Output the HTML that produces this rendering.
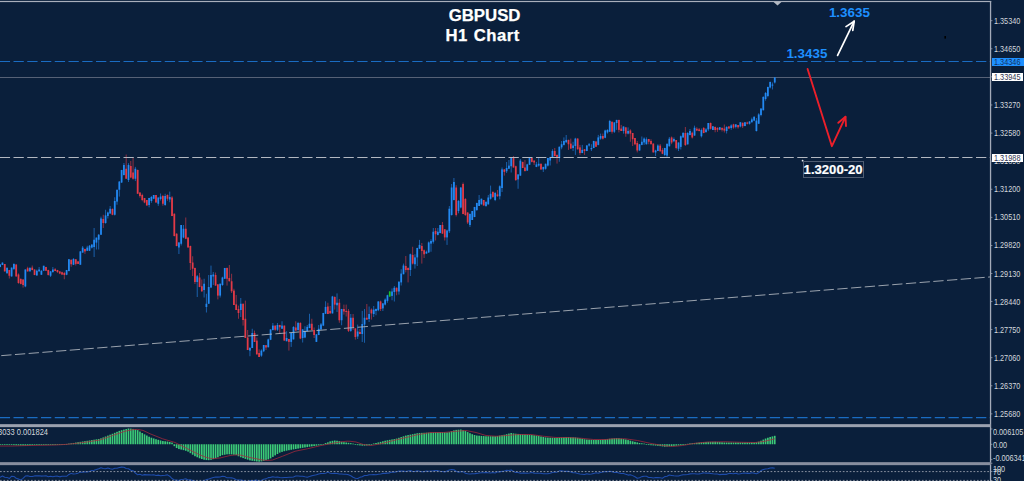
<!DOCTYPE html>
<html><head><meta charset="utf-8"><title>GBPUSD H1 Chart</title>
<style>
html,body{margin:0;padding:0;background:#0a1f3b;}
body{width:1024px;height:481px;overflow:hidden;position:relative;font-family:"Liberation Sans",sans-serif;}
svg{position:absolute;left:0;top:0;}
.ax{position:absolute;left:994.4px;font-size:8.3px;line-height:10px;height:10px;color:#d3d7dd;white-space:nowrap;transform:scaleX(0.875);transform-origin:0 50%;}
.tag{position:absolute;left:991.5px;width:31.6px;height:7.8px;white-space:nowrap;overflow:hidden;}
.tag span{position:absolute;left:2.6px;top:-1px;font-size:8.3px;line-height:10px;transform:scaleX(0.885);transform-origin:0 50%;}
.t{position:absolute;color:#fff;font-weight:bold;white-space:nowrap;}
.b{position:absolute;color:#1e90ff;font-weight:bold;font-size:13.4px;line-height:14px;white-space:nowrap;}
</style></head><body>
<svg width="1024" height="481" viewBox="0 0 1024 481">
<line x1="0" y1="61.5" x2="990.0" y2="61.5" stroke="#1a6cc2" stroke-width="1.15" stroke-dasharray="10.3 3.45" stroke-dashoffset="0.25" opacity="1.0"/>
<line x1="0" y1="417.6" x2="990.0" y2="417.6" stroke="#1a6cc2" stroke-width="1.15" stroke-dasharray="10.3 3.45" stroke-dashoffset="0.25" opacity="1.0"/>
<line x1="0" y1="77.5" x2="990.0" y2="77.5" stroke="#566176" stroke-width="1.05"/>
<line x1="-2.14" y1="261.29" x2="-2.14" y2="268.54" stroke="#e23a47" stroke-width="0.62"/>
<rect x="-3.01" y="264.20" width="1.75" height="3.61" fill="#e23a47"/>
<line x1="0.16" y1="264.09" x2="0.16" y2="267.26" stroke="#2389f2" stroke-width="0.62"/>
<rect x="-0.72" y="264.50" width="1.75" height="2.50" fill="#2389f2"/>
<line x1="2.45" y1="262.47" x2="2.45" y2="265.08" stroke="#2389f2" stroke-width="0.62"/>
<rect x="1.57" y="262.60" width="1.75" height="2.40" fill="#2389f2"/>
<line x1="4.74" y1="264.00" x2="4.74" y2="271.54" stroke="#e23a47" stroke-width="0.62"/>
<rect x="3.86" y="264.00" width="1.75" height="7.40" fill="#e23a47"/>
<line x1="7.03" y1="267.05" x2="7.03" y2="273.63" stroke="#2389f2" stroke-width="0.62"/>
<rect x="6.16" y="268.00" width="1.75" height="5.25" fill="#2389f2"/>
<line x1="9.32" y1="269.92" x2="9.32" y2="278.50" stroke="#e23a47" stroke-width="0.62"/>
<rect x="8.45" y="270.00" width="1.75" height="5.75" fill="#e23a47"/>
<line x1="11.61" y1="267.56" x2="11.61" y2="276.66" stroke="#2389f2" stroke-width="0.62"/>
<rect x="10.74" y="267.60" width="1.75" height="8.80" fill="#2389f2"/>
<line x1="13.91" y1="263.45" x2="13.91" y2="269.99" stroke="#2389f2" stroke-width="0.62"/>
<rect x="13.03" y="263.90" width="1.75" height="5.00" fill="#2389f2"/>
<line x1="16.20" y1="264.34" x2="16.20" y2="276.80" stroke="#e23a47" stroke-width="0.62"/>
<rect x="15.32" y="264.50" width="1.75" height="11.90" fill="#e23a47"/>
<line x1="18.49" y1="273.43" x2="18.49" y2="283.71" stroke="#e23a47" stroke-width="0.62"/>
<rect x="17.61" y="274.50" width="1.75" height="8.50" fill="#e23a47"/>
<line x1="20.78" y1="278.43" x2="20.78" y2="284.36" stroke="#e23a47" stroke-width="0.62"/>
<rect x="19.91" y="278.90" width="1.75" height="5.00" fill="#e23a47"/>
<line x1="23.07" y1="279.30" x2="23.07" y2="287.60" stroke="#e23a47" stroke-width="0.62"/>
<rect x="22.20" y="279.50" width="1.75" height="5.50" fill="#e23a47"/>
<line x1="25.36" y1="269.41" x2="25.36" y2="287.23" stroke="#2389f2" stroke-width="0.62"/>
<rect x="24.49" y="269.50" width="1.75" height="16.90" fill="#2389f2"/>
<line x1="27.66" y1="266.75" x2="27.66" y2="271.57" stroke="#e23a47" stroke-width="0.62"/>
<rect x="26.78" y="268.25" width="1.75" height="3.15" fill="#e23a47"/>
<line x1="29.95" y1="267.01" x2="29.95" y2="271.40" stroke="#2389f2" stroke-width="0.62"/>
<rect x="29.07" y="268.00" width="1.75" height="3.40" fill="#2389f2"/>
<line x1="32.24" y1="265.50" x2="32.24" y2="270.31" stroke="#e23a47" stroke-width="0.62"/>
<rect x="31.36" y="267.60" width="1.75" height="2.40" fill="#e23a47"/>
<line x1="34.53" y1="269.39" x2="34.53" y2="275.16" stroke="#e23a47" stroke-width="0.62"/>
<rect x="33.66" y="269.50" width="1.75" height="5.50" fill="#e23a47"/>
<line x1="36.82" y1="269.60" x2="36.82" y2="275.53" stroke="#2389f2" stroke-width="0.62"/>
<rect x="35.95" y="270.75" width="1.75" height="4.75" fill="#2389f2"/>
<line x1="39.11" y1="267.00" x2="39.11" y2="271.46" stroke="#2389f2" stroke-width="0.62"/>
<rect x="38.24" y="269.50" width="1.75" height="1.90" fill="#2389f2"/>
<line x1="41.41" y1="270.19" x2="41.41" y2="274.82" stroke="#2389f2" stroke-width="0.62"/>
<rect x="40.53" y="270.75" width="1.75" height="4.00" fill="#2389f2"/>
<line x1="43.70" y1="265.75" x2="43.70" y2="271.10" stroke="#2389f2" stroke-width="0.62"/>
<rect x="42.82" y="265.75" width="1.75" height="5.00" fill="#2389f2"/>
<line x1="45.99" y1="266.81" x2="45.99" y2="270.82" stroke="#e23a47" stroke-width="0.62"/>
<rect x="45.11" y="267.00" width="1.75" height="3.75" fill="#e23a47"/>
<line x1="48.28" y1="269.71" x2="48.28" y2="275.51" stroke="#e23a47" stroke-width="0.62"/>
<rect x="47.41" y="270.00" width="1.75" height="5.00" fill="#e23a47"/>
<line x1="50.57" y1="271.04" x2="50.57" y2="277.00" stroke="#2389f2" stroke-width="0.62"/>
<rect x="49.70" y="271.40" width="1.75" height="4.35" fill="#2389f2"/>
<line x1="52.86" y1="267.00" x2="52.86" y2="272.83" stroke="#2389f2" stroke-width="0.62"/>
<rect x="51.99" y="269.50" width="1.75" height="2.50" fill="#2389f2"/>
<line x1="55.16" y1="268.12" x2="55.16" y2="271.13" stroke="#e23a47" stroke-width="0.62"/>
<rect x="54.28" y="269.25" width="1.75" height="1.75" fill="#e23a47"/>
<line x1="57.45" y1="269.86" x2="57.45" y2="272.94" stroke="#e23a47" stroke-width="0.62"/>
<rect x="56.57" y="270.00" width="1.75" height="2.00" fill="#e23a47"/>
<line x1="59.74" y1="271.28" x2="59.74" y2="274.12" stroke="#e23a47" stroke-width="0.62"/>
<rect x="58.86" y="271.40" width="1.75" height="2.10" fill="#e23a47"/>
<line x1="62.03" y1="271.67" x2="62.03" y2="275.07" stroke="#e23a47" stroke-width="0.62"/>
<rect x="61.16" y="272.25" width="1.75" height="2.25" fill="#e23a47"/>
<line x1="64.32" y1="271.89" x2="64.32" y2="279.25" stroke="#e23a47" stroke-width="0.62"/>
<rect x="63.45" y="273.00" width="1.75" height="2.00" fill="#e23a47"/>
<line x1="66.61" y1="269.97" x2="66.61" y2="275.21" stroke="#2389f2" stroke-width="0.62"/>
<rect x="65.74" y="270.00" width="1.75" height="4.75" fill="#2389f2"/>
<line x1="68.91" y1="258.96" x2="68.91" y2="271.38" stroke="#2389f2" stroke-width="0.62"/>
<rect x="68.03" y="259.25" width="1.75" height="11.75" fill="#2389f2"/>
<line x1="71.20" y1="259.59" x2="71.20" y2="266.75" stroke="#e23a47" stroke-width="0.62"/>
<rect x="70.32" y="259.75" width="1.75" height="4.50" fill="#e23a47"/>
<line x1="73.49" y1="258.23" x2="73.49" y2="265.09" stroke="#2389f2" stroke-width="0.62"/>
<rect x="72.61" y="258.90" width="1.75" height="5.85" fill="#2389f2"/>
<line x1="75.78" y1="259.18" x2="75.78" y2="265.50" stroke="#e23a47" stroke-width="0.62"/>
<rect x="74.91" y="259.25" width="1.75" height="4.65" fill="#e23a47"/>
<line x1="78.07" y1="261.27" x2="78.07" y2="263.94" stroke="#e23a47" stroke-width="0.62"/>
<rect x="77.20" y="261.40" width="1.75" height="2.50" fill="#e23a47"/>
<line x1="80.36" y1="251.08" x2="80.36" y2="264.77" stroke="#2389f2" stroke-width="0.62"/>
<rect x="79.49" y="251.40" width="1.75" height="13.35" fill="#2389f2"/>
<line x1="82.66" y1="246.00" x2="82.66" y2="252.61" stroke="#2389f2" stroke-width="0.62"/>
<rect x="81.78" y="247.60" width="1.75" height="5.00" fill="#2389f2"/>
<line x1="84.95" y1="248.89" x2="84.95" y2="253.90" stroke="#e23a47" stroke-width="0.62"/>
<rect x="84.07" y="248.90" width="1.75" height="2.50" fill="#e23a47"/>
<line x1="87.24" y1="245.75" x2="87.24" y2="250.99" stroke="#2389f2" stroke-width="0.62"/>
<rect x="86.37" y="247.60" width="1.75" height="3.15" fill="#2389f2"/>
<line x1="89.53" y1="245.03" x2="89.53" y2="251.03" stroke="#2389f2" stroke-width="0.62"/>
<rect x="88.66" y="245.75" width="1.75" height="5.00" fill="#2389f2"/>
<line x1="91.82" y1="244.47" x2="91.82" y2="248.50" stroke="#2389f2" stroke-width="0.62"/>
<rect x="90.95" y="244.50" width="1.75" height="3.10" fill="#2389f2"/>
<line x1="94.12" y1="228.00" x2="94.12" y2="257.00" stroke="#2389f2" stroke-width="0.62"/>
<rect x="93.24" y="239.75" width="1.75" height="7.25" fill="#2389f2"/>
<line x1="96.41" y1="237.52" x2="96.41" y2="249.50" stroke="#2389f2" stroke-width="0.62"/>
<rect x="95.53" y="237.60" width="1.75" height="5.00" fill="#2389f2"/>
<line x1="98.70" y1="233.99" x2="98.70" y2="249.50" stroke="#2389f2" stroke-width="0.62"/>
<rect x="97.82" y="234.75" width="1.75" height="5.00" fill="#2389f2"/>
<line x1="100.99" y1="216.60" x2="100.99" y2="234.83" stroke="#2389f2" stroke-width="0.62"/>
<rect x="100.12" y="218.50" width="1.75" height="16.25" fill="#2389f2"/>
<line x1="103.28" y1="214.75" x2="103.28" y2="228.00" stroke="#e23a47" stroke-width="0.62"/>
<rect x="102.41" y="219.00" width="1.75" height="4.00" fill="#e23a47"/>
<line x1="105.57" y1="209.75" x2="105.57" y2="223.69" stroke="#2389f2" stroke-width="0.62"/>
<rect x="104.70" y="215.40" width="1.75" height="7.60" fill="#2389f2"/>
<line x1="107.87" y1="211.65" x2="107.87" y2="218.50" stroke="#2389f2" stroke-width="0.62"/>
<rect x="106.99" y="212.50" width="1.75" height="3.50" fill="#2389f2"/>
<line x1="110.16" y1="206.00" x2="110.16" y2="213.71" stroke="#2389f2" stroke-width="0.62"/>
<rect x="109.28" y="208.75" width="1.75" height="4.75" fill="#2389f2"/>
<line x1="112.45" y1="208.40" x2="112.45" y2="215.22" stroke="#e23a47" stroke-width="0.62"/>
<rect x="111.57" y="209.00" width="1.75" height="5.75" fill="#e23a47"/>
<line x1="114.74" y1="197.25" x2="114.74" y2="215.52" stroke="#2389f2" stroke-width="0.62"/>
<rect x="113.87" y="201.00" width="1.75" height="13.75" fill="#2389f2"/>
<line x1="117.03" y1="189.73" x2="117.03" y2="204.75" stroke="#2389f2" stroke-width="0.62"/>
<rect x="116.16" y="189.75" width="1.75" height="11.85" fill="#2389f2"/>
<line x1="119.32" y1="181.06" x2="119.32" y2="196.60" stroke="#2389f2" stroke-width="0.62"/>
<rect x="118.45" y="181.60" width="1.75" height="8.15" fill="#2389f2"/>
<line x1="121.62" y1="169.88" x2="121.62" y2="183.01" stroke="#2389f2" stroke-width="0.62"/>
<rect x="120.74" y="170.00" width="1.75" height="12.50" fill="#2389f2"/>
<line x1="123.91" y1="163.00" x2="123.91" y2="175.53" stroke="#2389f2" stroke-width="0.62"/>
<rect x="123.03" y="165.00" width="1.75" height="10.00" fill="#2389f2"/>
<line x1="126.20" y1="154.50" x2="126.20" y2="178.78" stroke="#e23a47" stroke-width="0.62"/>
<rect x="125.32" y="168.75" width="1.75" height="10.00" fill="#e23a47"/>
<line x1="128.49" y1="163.19" x2="128.49" y2="182.00" stroke="#2389f2" stroke-width="0.62"/>
<rect x="127.62" y="165.00" width="1.75" height="15.00" fill="#2389f2"/>
<line x1="130.78" y1="161.00" x2="130.78" y2="178.19" stroke="#e23a47" stroke-width="0.62"/>
<rect x="129.91" y="166.00" width="1.75" height="11.50" fill="#e23a47"/>
<line x1="133.07" y1="158.00" x2="133.07" y2="179.69" stroke="#e23a47" stroke-width="0.62"/>
<rect x="132.20" y="172.50" width="1.75" height="6.25" fill="#e23a47"/>
<line x1="135.37" y1="166.88" x2="135.37" y2="181.07" stroke="#2389f2" stroke-width="0.62"/>
<rect x="134.49" y="168.75" width="1.75" height="10.00" fill="#2389f2"/>
<line x1="137.66" y1="169.57" x2="137.66" y2="193.75" stroke="#e23a47" stroke-width="0.62"/>
<rect x="136.78" y="170.00" width="1.75" height="23.75" fill="#e23a47"/>
<line x1="139.95" y1="192.44" x2="139.95" y2="197.67" stroke="#e23a47" stroke-width="0.62"/>
<rect x="139.07" y="192.50" width="1.75" height="3.50" fill="#e23a47"/>
<line x1="142.24" y1="193.65" x2="142.24" y2="201.27" stroke="#e23a47" stroke-width="0.62"/>
<rect x="141.37" y="195.00" width="1.75" height="5.00" fill="#e23a47"/>
<line x1="144.53" y1="197.94" x2="144.53" y2="203.21" stroke="#e23a47" stroke-width="0.62"/>
<rect x="143.66" y="198.00" width="1.75" height="4.50" fill="#e23a47"/>
<line x1="146.82" y1="200.00" x2="146.82" y2="205.53" stroke="#e23a47" stroke-width="0.62"/>
<rect x="145.95" y="200.00" width="1.75" height="5.50" fill="#e23a47"/>
<line x1="149.12" y1="197.77" x2="149.12" y2="207.33" stroke="#2389f2" stroke-width="0.62"/>
<rect x="148.24" y="198.00" width="1.75" height="7.00" fill="#2389f2"/>
<line x1="151.41" y1="195.97" x2="151.41" y2="202.80" stroke="#2389f2" stroke-width="0.62"/>
<rect x="150.53" y="197.00" width="1.75" height="4.00" fill="#2389f2"/>
<line x1="153.70" y1="194.99" x2="153.70" y2="199.18" stroke="#2389f2" stroke-width="0.62"/>
<rect x="152.82" y="195.00" width="1.75" height="3.75" fill="#2389f2"/>
<line x1="155.99" y1="194.98" x2="155.99" y2="202.67" stroke="#e23a47" stroke-width="0.62"/>
<rect x="155.12" y="195.00" width="1.75" height="7.50" fill="#e23a47"/>
<line x1="158.28" y1="197.47" x2="158.28" y2="205.86" stroke="#2389f2" stroke-width="0.62"/>
<rect x="157.41" y="197.50" width="1.75" height="6.25" fill="#2389f2"/>
<line x1="160.57" y1="193.50" x2="160.57" y2="200.50" stroke="#2389f2" stroke-width="0.62"/>
<rect x="159.70" y="196.50" width="1.75" height="2.50" fill="#2389f2"/>
<line x1="162.87" y1="194.93" x2="162.87" y2="205.72" stroke="#e23a47" stroke-width="0.62"/>
<rect x="161.99" y="196.00" width="1.75" height="7.75" fill="#e23a47"/>
<line x1="165.16" y1="193.76" x2="165.16" y2="205.81" stroke="#2389f2" stroke-width="0.62"/>
<rect x="164.28" y="196.00" width="1.75" height="9.00" fill="#2389f2"/>
<line x1="167.45" y1="194.37" x2="167.45" y2="200.79" stroke="#e23a47" stroke-width="0.62"/>
<rect x="166.57" y="195.00" width="1.75" height="3.75" fill="#e23a47"/>
<line x1="169.74" y1="191.60" x2="169.74" y2="202.25" stroke="#2389f2" stroke-width="0.62"/>
<rect x="168.87" y="197.00" width="1.75" height="2.50" fill="#2389f2"/>
<line x1="172.03" y1="196.13" x2="172.03" y2="216.17" stroke="#e23a47" stroke-width="0.62"/>
<rect x="171.16" y="197.50" width="1.75" height="18.50" fill="#e23a47"/>
<line x1="174.32" y1="213.41" x2="174.32" y2="236.46" stroke="#e23a47" stroke-width="0.62"/>
<rect x="173.45" y="213.75" width="1.75" height="22.25" fill="#e23a47"/>
<line x1="176.62" y1="233.18" x2="176.62" y2="246.32" stroke="#e23a47" stroke-width="0.62"/>
<rect x="175.74" y="233.75" width="1.75" height="12.25" fill="#e23a47"/>
<line x1="178.91" y1="242.04" x2="178.91" y2="254.00" stroke="#2389f2" stroke-width="0.62"/>
<rect x="178.03" y="242.50" width="1.75" height="5.00" fill="#2389f2"/>
<line x1="181.20" y1="224.99" x2="181.20" y2="245.50" stroke="#2389f2" stroke-width="0.62"/>
<rect x="180.32" y="225.00" width="1.75" height="18.75" fill="#2389f2"/>
<line x1="183.49" y1="225.00" x2="183.49" y2="238.20" stroke="#2389f2" stroke-width="0.62"/>
<rect x="182.62" y="228.75" width="1.75" height="8.75" fill="#2389f2"/>
<line x1="185.78" y1="217.50" x2="185.78" y2="239.15" stroke="#e23a47" stroke-width="0.62"/>
<rect x="184.91" y="228.75" width="1.75" height="10.00" fill="#e23a47"/>
<line x1="188.07" y1="237.38" x2="188.07" y2="247.52" stroke="#e23a47" stroke-width="0.62"/>
<rect x="187.20" y="237.50" width="1.75" height="10.00" fill="#e23a47"/>
<line x1="190.37" y1="245.65" x2="190.37" y2="270.00" stroke="#e23a47" stroke-width="0.62"/>
<rect x="189.49" y="246.00" width="1.75" height="17.00" fill="#e23a47"/>
<line x1="192.66" y1="256.25" x2="192.66" y2="276.00" stroke="#e23a47" stroke-width="0.62"/>
<rect x="191.78" y="262.50" width="1.75" height="6.25" fill="#e23a47"/>
<line x1="194.95" y1="267.59" x2="194.95" y2="284.00" stroke="#e23a47" stroke-width="0.62"/>
<rect x="194.07" y="268.00" width="1.75" height="14.00" fill="#e23a47"/>
<line x1="197.24" y1="275.00" x2="197.24" y2="297.00" stroke="#2389f2" stroke-width="0.62"/>
<rect x="196.37" y="276.25" width="1.75" height="5.75" fill="#2389f2"/>
<line x1="199.53" y1="273.00" x2="199.53" y2="287.21" stroke="#e23a47" stroke-width="0.62"/>
<rect x="198.66" y="277.50" width="1.75" height="9.50" fill="#e23a47"/>
<line x1="201.82" y1="279.50" x2="201.82" y2="292.00" stroke="#e23a47" stroke-width="0.62"/>
<rect x="200.95" y="286.25" width="1.75" height="5.00" fill="#e23a47"/>
<line x1="204.12" y1="278.75" x2="204.12" y2="297.50" stroke="#2389f2" stroke-width="0.62"/>
<rect x="203.24" y="283.75" width="1.75" height="6.25" fill="#2389f2"/>
<line x1="206.41" y1="293.75" x2="206.41" y2="312.50" stroke="#2389f2" stroke-width="0.62"/>
<rect x="205.53" y="303.75" width="1.75" height="3.25" fill="#2389f2"/>
<line x1="208.70" y1="275.00" x2="208.70" y2="303.75" stroke="#2389f2" stroke-width="0.62"/>
<rect x="207.83" y="287.00" width="1.75" height="16.75" fill="#2389f2"/>
<line x1="210.99" y1="265.60" x2="210.99" y2="288.14" stroke="#2389f2" stroke-width="0.62"/>
<rect x="210.12" y="275.00" width="1.75" height="12.50" fill="#2389f2"/>
<line x1="213.28" y1="272.00" x2="213.28" y2="285.00" stroke="#2389f2" stroke-width="0.62"/>
<rect x="212.41" y="274.50" width="1.75" height="2.00" fill="#2389f2"/>
<line x1="215.58" y1="272.50" x2="215.58" y2="285.60" stroke="#e23a47" stroke-width="0.62"/>
<rect x="214.70" y="275.00" width="1.75" height="10.60" fill="#e23a47"/>
<line x1="217.87" y1="284.05" x2="217.87" y2="299.40" stroke="#e23a47" stroke-width="0.62"/>
<rect x="216.99" y="284.40" width="1.75" height="11.20" fill="#e23a47"/>
<line x1="220.16" y1="283.58" x2="220.16" y2="297.50" stroke="#2389f2" stroke-width="0.62"/>
<rect x="219.28" y="283.75" width="1.75" height="11.85" fill="#2389f2"/>
<line x1="222.45" y1="276.73" x2="222.45" y2="285.84" stroke="#2389f2" stroke-width="0.62"/>
<rect x="221.58" y="277.50" width="1.75" height="7.50" fill="#2389f2"/>
<line x1="224.74" y1="267.90" x2="224.74" y2="278.93" stroke="#2389f2" stroke-width="0.62"/>
<rect x="223.87" y="268.00" width="1.75" height="10.75" fill="#2389f2"/>
<line x1="227.03" y1="267.54" x2="227.03" y2="285.60" stroke="#e23a47" stroke-width="0.62"/>
<rect x="226.16" y="268.00" width="1.75" height="10.75" fill="#e23a47"/>
<line x1="229.33" y1="265.00" x2="229.33" y2="281.43" stroke="#e23a47" stroke-width="0.62"/>
<rect x="228.45" y="278.00" width="1.75" height="3.25" fill="#e23a47"/>
<line x1="231.62" y1="273.75" x2="231.62" y2="293.00" stroke="#e23a47" stroke-width="0.62"/>
<rect x="230.74" y="281.25" width="1.75" height="10.00" fill="#e23a47"/>
<line x1="233.91" y1="288.75" x2="233.91" y2="305.03" stroke="#e23a47" stroke-width="0.62"/>
<rect x="233.03" y="290.60" width="1.75" height="14.40" fill="#e23a47"/>
<line x1="236.20" y1="295.00" x2="236.20" y2="310.01" stroke="#e23a47" stroke-width="0.62"/>
<rect x="235.33" y="304.40" width="1.75" height="5.60" fill="#e23a47"/>
<line x1="238.49" y1="305.60" x2="238.49" y2="318.75" stroke="#e23a47" stroke-width="0.62"/>
<rect x="237.62" y="309.00" width="1.75" height="4.00" fill="#e23a47"/>
<line x1="240.78" y1="298.00" x2="240.78" y2="317.00" stroke="#2389f2" stroke-width="0.62"/>
<rect x="239.91" y="303.75" width="1.75" height="6.25" fill="#2389f2"/>
<line x1="243.08" y1="303.62" x2="243.08" y2="325.60" stroke="#e23a47" stroke-width="0.62"/>
<rect x="242.20" y="303.75" width="1.75" height="16.25" fill="#e23a47"/>
<line x1="245.37" y1="300.60" x2="245.37" y2="338.02" stroke="#e23a47" stroke-width="0.62"/>
<rect x="244.49" y="318.75" width="1.75" height="19.25" fill="#e23a47"/>
<line x1="247.66" y1="330.00" x2="247.66" y2="350.09" stroke="#e23a47" stroke-width="0.62"/>
<rect x="246.78" y="337.50" width="1.75" height="12.50" fill="#e23a47"/>
<line x1="249.95" y1="347.00" x2="249.95" y2="356.25" stroke="#2389f2" stroke-width="0.62"/>
<rect x="249.08" y="348.00" width="1.75" height="2.60" fill="#2389f2"/>
<line x1="252.24" y1="328.75" x2="252.24" y2="348.08" stroke="#2389f2" stroke-width="0.62"/>
<rect x="251.37" y="333.00" width="1.75" height="15.00" fill="#2389f2"/>
<line x1="254.53" y1="330.60" x2="254.53" y2="342.00" stroke="#e23a47" stroke-width="0.62"/>
<rect x="253.66" y="333.00" width="1.75" height="9.00" fill="#e23a47"/>
<line x1="256.83" y1="337.50" x2="256.83" y2="354.51" stroke="#e23a47" stroke-width="0.62"/>
<rect x="255.95" y="340.60" width="1.75" height="13.80" fill="#e23a47"/>
<line x1="259.12" y1="349.40" x2="259.12" y2="357.04" stroke="#e23a47" stroke-width="0.62"/>
<rect x="258.24" y="353.00" width="1.75" height="4.00" fill="#e23a47"/>
<line x1="261.41" y1="349.40" x2="261.41" y2="356.79" stroke="#2389f2" stroke-width="0.62"/>
<rect x="260.53" y="350.60" width="1.75" height="5.00" fill="#2389f2"/>
<line x1="263.70" y1="344.95" x2="263.70" y2="352.15" stroke="#2389f2" stroke-width="0.62"/>
<rect x="262.83" y="345.00" width="1.75" height="6.25" fill="#2389f2"/>
<line x1="265.99" y1="344.97" x2="265.99" y2="350.00" stroke="#e23a47" stroke-width="0.62"/>
<rect x="265.12" y="345.25" width="1.75" height="2.25" fill="#e23a47"/>
<line x1="268.28" y1="338.62" x2="268.28" y2="347.44" stroke="#2389f2" stroke-width="0.62"/>
<rect x="267.41" y="339.40" width="1.75" height="7.85" fill="#2389f2"/>
<line x1="270.58" y1="329.40" x2="270.58" y2="340.11" stroke="#2389f2" stroke-width="0.62"/>
<rect x="269.70" y="329.40" width="1.75" height="10.35" fill="#2389f2"/>
<line x1="272.87" y1="323.00" x2="272.87" y2="330.47" stroke="#2389f2" stroke-width="0.62"/>
<rect x="271.99" y="325.60" width="1.75" height="4.40" fill="#2389f2"/>
<line x1="275.16" y1="325.51" x2="275.16" y2="330.81" stroke="#e23a47" stroke-width="0.62"/>
<rect x="274.28" y="325.60" width="1.75" height="4.15" fill="#e23a47"/>
<line x1="277.45" y1="323.00" x2="277.45" y2="330.94" stroke="#2389f2" stroke-width="0.62"/>
<rect x="276.58" y="325.00" width="1.75" height="4.75" fill="#2389f2"/>
<line x1="279.74" y1="324.76" x2="279.74" y2="333.75" stroke="#e23a47" stroke-width="0.62"/>
<rect x="278.87" y="325.00" width="1.75" height="2.25" fill="#e23a47"/>
<line x1="282.03" y1="321.25" x2="282.03" y2="328.79" stroke="#2389f2" stroke-width="0.62"/>
<rect x="281.16" y="325.60" width="1.75" height="3.15" fill="#2389f2"/>
<line x1="284.33" y1="325.60" x2="284.33" y2="340.63" stroke="#e23a47" stroke-width="0.62"/>
<rect x="283.45" y="325.60" width="1.75" height="15.00" fill="#e23a47"/>
<line x1="286.62" y1="331.25" x2="286.62" y2="341.26" stroke="#2389f2" stroke-width="0.62"/>
<rect x="285.74" y="338.00" width="1.75" height="3.25" fill="#2389f2"/>
<line x1="288.91" y1="338.85" x2="288.91" y2="350.60" stroke="#e23a47" stroke-width="0.62"/>
<rect x="288.03" y="339.00" width="1.75" height="2.90" fill="#e23a47"/>
<line x1="291.20" y1="332.88" x2="291.20" y2="346.90" stroke="#2389f2" stroke-width="0.62"/>
<rect x="290.33" y="333.00" width="1.75" height="8.90" fill="#2389f2"/>
<line x1="293.49" y1="326.25" x2="293.49" y2="339.45" stroke="#2389f2" stroke-width="0.62"/>
<rect x="292.62" y="326.90" width="1.75" height="12.50" fill="#2389f2"/>
<line x1="295.78" y1="321.25" x2="295.78" y2="330.60" stroke="#e23a47" stroke-width="0.62"/>
<rect x="294.91" y="327.50" width="1.75" height="3.10" fill="#e23a47"/>
<line x1="298.08" y1="321.90" x2="298.08" y2="330.79" stroke="#2389f2" stroke-width="0.62"/>
<rect x="297.20" y="323.00" width="1.75" height="7.00" fill="#2389f2"/>
<line x1="300.37" y1="322.25" x2="300.37" y2="339.15" stroke="#e23a47" stroke-width="0.62"/>
<rect x="299.49" y="323.00" width="1.75" height="15.50" fill="#e23a47"/>
<line x1="302.66" y1="329.21" x2="302.66" y2="342.50" stroke="#2389f2" stroke-width="0.62"/>
<rect x="301.78" y="329.40" width="1.75" height="8.60" fill="#2389f2"/>
<line x1="304.95" y1="326.25" x2="304.95" y2="338.21" stroke="#2389f2" stroke-width="0.62"/>
<rect x="304.08" y="331.25" width="1.75" height="6.25" fill="#2389f2"/>
<line x1="307.24" y1="325.00" x2="307.24" y2="331.26" stroke="#2389f2" stroke-width="0.62"/>
<rect x="306.37" y="326.90" width="1.75" height="4.35" fill="#2389f2"/>
<line x1="309.53" y1="313.75" x2="309.53" y2="328.19" stroke="#2389f2" stroke-width="0.62"/>
<rect x="308.66" y="323.75" width="1.75" height="4.25" fill="#2389f2"/>
<line x1="311.83" y1="318.75" x2="311.83" y2="330.08" stroke="#e23a47" stroke-width="0.62"/>
<rect x="310.95" y="323.75" width="1.75" height="6.25" fill="#e23a47"/>
<line x1="314.12" y1="327.50" x2="314.12" y2="338.00" stroke="#e23a47" stroke-width="0.62"/>
<rect x="313.24" y="330.00" width="1.75" height="5.00" fill="#e23a47"/>
<line x1="316.41" y1="334.00" x2="316.41" y2="341.96" stroke="#2389f2" stroke-width="0.62"/>
<rect x="315.53" y="334.40" width="1.75" height="7.50" fill="#2389f2"/>
<line x1="318.70" y1="325.00" x2="318.70" y2="335.16" stroke="#2389f2" stroke-width="0.62"/>
<rect x="317.83" y="328.75" width="1.75" height="6.25" fill="#2389f2"/>
<line x1="320.99" y1="323.00" x2="320.99" y2="330.19" stroke="#2389f2" stroke-width="0.62"/>
<rect x="320.12" y="324.40" width="1.75" height="5.00" fill="#2389f2"/>
<line x1="323.29" y1="312.84" x2="323.29" y2="326.09" stroke="#2389f2" stroke-width="0.62"/>
<rect x="322.41" y="313.00" width="1.75" height="12.60" fill="#2389f2"/>
<line x1="325.58" y1="301.25" x2="325.58" y2="313.84" stroke="#2389f2" stroke-width="0.62"/>
<rect x="324.70" y="306.90" width="1.75" height="6.85" fill="#2389f2"/>
<line x1="327.87" y1="302.75" x2="327.87" y2="314.12" stroke="#e23a47" stroke-width="0.62"/>
<rect x="326.99" y="306.50" width="1.75" height="7.50" fill="#e23a47"/>
<line x1="330.16" y1="306.00" x2="330.16" y2="313.53" stroke="#e23a47" stroke-width="0.62"/>
<rect x="329.29" y="310.90" width="1.75" height="2.50" fill="#e23a47"/>
<line x1="332.45" y1="295.84" x2="332.45" y2="313.45" stroke="#2389f2" stroke-width="0.62"/>
<rect x="331.58" y="296.50" width="1.75" height="16.90" fill="#2389f2"/>
<line x1="334.74" y1="296.34" x2="334.74" y2="309.60" stroke="#e23a47" stroke-width="0.62"/>
<rect x="333.87" y="297.00" width="1.75" height="7.60" fill="#e23a47"/>
<line x1="337.04" y1="293.40" x2="337.04" y2="312.00" stroke="#2389f2" stroke-width="0.62"/>
<rect x="336.16" y="302.75" width="1.75" height="2.50" fill="#2389f2"/>
<line x1="339.33" y1="299.00" x2="339.33" y2="322.75" stroke="#e23a47" stroke-width="0.62"/>
<rect x="338.45" y="302.75" width="1.75" height="17.50" fill="#e23a47"/>
<line x1="341.62" y1="308.85" x2="341.62" y2="325.25" stroke="#2389f2" stroke-width="0.62"/>
<rect x="340.74" y="309.00" width="1.75" height="11.25" fill="#2389f2"/>
<line x1="343.91" y1="304.60" x2="343.91" y2="314.60" stroke="#e23a47" stroke-width="0.62"/>
<rect x="343.04" y="309.00" width="1.75" height="2.50" fill="#e23a47"/>
<line x1="346.20" y1="304.60" x2="346.20" y2="316.50" stroke="#e23a47" stroke-width="0.62"/>
<rect x="345.33" y="310.90" width="1.75" height="1.10" fill="#e23a47"/>
<line x1="348.49" y1="309.00" x2="348.49" y2="331.99" stroke="#e23a47" stroke-width="0.62"/>
<rect x="347.62" y="310.90" width="1.75" height="20.00" fill="#e23a47"/>
<line x1="350.79" y1="314.00" x2="350.79" y2="331.83" stroke="#2389f2" stroke-width="0.62"/>
<rect x="349.91" y="317.75" width="1.75" height="13.15" fill="#2389f2"/>
<line x1="353.08" y1="314.00" x2="353.08" y2="330.00" stroke="#e23a47" stroke-width="0.62"/>
<rect x="352.20" y="317.75" width="1.75" height="9.25" fill="#e23a47"/>
<line x1="355.37" y1="328.39" x2="355.37" y2="339.60" stroke="#e23a47" stroke-width="0.62"/>
<rect x="354.49" y="328.40" width="1.75" height="8.60" fill="#e23a47"/>
<line x1="357.66" y1="324.60" x2="357.66" y2="339.00" stroke="#2389f2" stroke-width="0.62"/>
<rect x="356.79" y="331.50" width="1.75" height="5.00" fill="#2389f2"/>
<line x1="359.95" y1="329.00" x2="359.95" y2="334.20" stroke="#e23a47" stroke-width="0.62"/>
<rect x="359.08" y="332.00" width="1.75" height="2.00" fill="#e23a47"/>
<line x1="362.24" y1="310.90" x2="362.24" y2="342.00" stroke="#2389f2" stroke-width="0.62"/>
<rect x="361.37" y="324.00" width="1.75" height="10.00" fill="#2389f2"/>
<line x1="364.54" y1="309.00" x2="364.54" y2="342.75" stroke="#2389f2" stroke-width="0.62"/>
<rect x="363.66" y="317.75" width="1.75" height="6.85" fill="#2389f2"/>
<line x1="366.83" y1="304.00" x2="366.83" y2="319.72" stroke="#e23a47" stroke-width="0.62"/>
<rect x="365.95" y="317.75" width="1.75" height="1.85" fill="#e23a47"/>
<line x1="369.12" y1="306.50" x2="369.12" y2="322.00" stroke="#2389f2" stroke-width="0.62"/>
<rect x="368.24" y="314.00" width="1.75" height="5.00" fill="#2389f2"/>
<line x1="371.41" y1="308.43" x2="371.41" y2="319.60" stroke="#e23a47" stroke-width="0.62"/>
<rect x="370.54" y="309.60" width="1.75" height="3.80" fill="#e23a47"/>
<line x1="373.70" y1="306.00" x2="373.70" y2="317.00" stroke="#2389f2" stroke-width="0.62"/>
<rect x="372.83" y="309.60" width="1.75" height="4.40" fill="#2389f2"/>
<line x1="375.99" y1="308.50" x2="375.99" y2="315.25" stroke="#2389f2" stroke-width="0.62"/>
<rect x="375.12" y="309.00" width="1.75" height="2.00" fill="#2389f2"/>
<line x1="378.29" y1="301.04" x2="378.29" y2="311.20" stroke="#2389f2" stroke-width="0.62"/>
<rect x="377.41" y="301.50" width="1.75" height="8.75" fill="#2389f2"/>
<line x1="380.58" y1="300.62" x2="380.58" y2="311.00" stroke="#e23a47" stroke-width="0.62"/>
<rect x="379.70" y="301.50" width="1.75" height="7.50" fill="#e23a47"/>
<line x1="382.87" y1="303.09" x2="382.87" y2="311.00" stroke="#2389f2" stroke-width="0.62"/>
<rect x="381.99" y="303.40" width="1.75" height="5.00" fill="#2389f2"/>
<line x1="385.16" y1="298.40" x2="385.16" y2="305.44" stroke="#2389f2" stroke-width="0.62"/>
<rect x="384.29" y="299.60" width="1.75" height="5.00" fill="#2389f2"/>
<line x1="387.45" y1="294.68" x2="387.45" y2="302.75" stroke="#2389f2" stroke-width="0.62"/>
<rect x="386.58" y="295.25" width="1.75" height="5.65" fill="#2389f2"/>
<line x1="389.74" y1="291.00" x2="389.74" y2="297.00" stroke="#18c428" stroke-width="0.62"/>
<rect x="388.87" y="291.50" width="1.75" height="5.00" fill="#18c428"/>
<line x1="392.04" y1="288.40" x2="392.04" y2="300.25" stroke="#2389f2" stroke-width="0.62"/>
<rect x="391.16" y="291.50" width="1.75" height="4.40" fill="#2389f2"/>
<line x1="394.33" y1="286.00" x2="394.33" y2="301.50" stroke="#2389f2" stroke-width="0.62"/>
<rect x="393.45" y="287.75" width="1.75" height="4.25" fill="#2389f2"/>
<line x1="396.62" y1="287.43" x2="396.62" y2="295.25" stroke="#e23a47" stroke-width="0.62"/>
<rect x="395.74" y="287.75" width="1.75" height="3.75" fill="#e23a47"/>
<line x1="398.91" y1="281.28" x2="398.91" y2="294.60" stroke="#2389f2" stroke-width="0.62"/>
<rect x="398.04" y="281.75" width="1.75" height="9.75" fill="#2389f2"/>
<line x1="401.20" y1="269.25" x2="401.20" y2="285.50" stroke="#2389f2" stroke-width="0.62"/>
<rect x="400.33" y="273.60" width="1.75" height="8.80" fill="#2389f2"/>
<line x1="403.49" y1="263.60" x2="403.49" y2="274.28" stroke="#2389f2" stroke-width="0.62"/>
<rect x="402.62" y="265.50" width="1.75" height="8.75" fill="#2389f2"/>
<line x1="405.79" y1="256.00" x2="405.79" y2="272.40" stroke="#e23a47" stroke-width="0.62"/>
<rect x="404.91" y="266.00" width="1.75" height="4.00" fill="#e23a47"/>
<line x1="408.08" y1="267.35" x2="408.08" y2="282.40" stroke="#e23a47" stroke-width="0.62"/>
<rect x="407.20" y="268.00" width="1.75" height="2.00" fill="#e23a47"/>
<line x1="410.37" y1="253.60" x2="410.37" y2="276.00" stroke="#2389f2" stroke-width="0.62"/>
<rect x="409.49" y="254.25" width="1.75" height="15.75" fill="#2389f2"/>
<line x1="412.66" y1="246.75" x2="412.66" y2="264.50" stroke="#e23a47" stroke-width="0.62"/>
<rect x="411.79" y="254.90" width="1.75" height="8.70" fill="#e23a47"/>
<line x1="414.95" y1="254.25" x2="414.95" y2="268.60" stroke="#2389f2" stroke-width="0.62"/>
<rect x="414.08" y="257.40" width="1.75" height="6.85" fill="#2389f2"/>
<line x1="417.24" y1="247.71" x2="417.24" y2="266.00" stroke="#2389f2" stroke-width="0.62"/>
<rect x="416.37" y="248.00" width="1.75" height="9.40" fill="#2389f2"/>
<line x1="419.54" y1="239.90" x2="419.54" y2="249.11" stroke="#2389f2" stroke-width="0.62"/>
<rect x="418.66" y="244.90" width="1.75" height="3.70" fill="#2389f2"/>
<line x1="421.83" y1="243.00" x2="421.83" y2="263.60" stroke="#e23a47" stroke-width="0.62"/>
<rect x="420.95" y="246.00" width="1.75" height="5.00" fill="#e23a47"/>
<line x1="424.12" y1="249.49" x2="424.12" y2="258.00" stroke="#e23a47" stroke-width="0.62"/>
<rect x="423.24" y="250.25" width="1.75" height="4.00" fill="#e23a47"/>
<line x1="426.41" y1="250.57" x2="426.41" y2="253.61" stroke="#2389f2" stroke-width="0.62"/>
<rect x="425.54" y="251.75" width="1.75" height="1.85" fill="#2389f2"/>
<line x1="428.70" y1="241.49" x2="428.70" y2="253.01" stroke="#2389f2" stroke-width="0.62"/>
<rect x="427.83" y="242.40" width="1.75" height="10.00" fill="#2389f2"/>
<line x1="431.00" y1="239.25" x2="431.00" y2="251.75" stroke="#2389f2" stroke-width="0.62"/>
<rect x="430.12" y="241.00" width="1.75" height="2.60" fill="#2389f2"/>
<line x1="433.29" y1="228.00" x2="433.29" y2="243.60" stroke="#2389f2" stroke-width="0.62"/>
<rect x="432.41" y="231.75" width="1.75" height="10.00" fill="#2389f2"/>
<line x1="435.58" y1="228.00" x2="435.58" y2="240.50" stroke="#e23a47" stroke-width="0.62"/>
<rect x="434.70" y="231.00" width="1.75" height="3.25" fill="#e23a47"/>
<line x1="437.87" y1="228.00" x2="437.87" y2="235.40" stroke="#2389f2" stroke-width="0.62"/>
<rect x="437.00" y="231.75" width="1.75" height="3.15" fill="#2389f2"/>
<line x1="440.16" y1="224.99" x2="440.16" y2="233.37" stroke="#2389f2" stroke-width="0.62"/>
<rect x="439.29" y="225.00" width="1.75" height="8.00" fill="#2389f2"/>
<line x1="442.45" y1="222.00" x2="442.45" y2="233.89" stroke="#e23a47" stroke-width="0.62"/>
<rect x="441.58" y="225.00" width="1.75" height="8.60" fill="#e23a47"/>
<line x1="444.75" y1="229.18" x2="444.75" y2="240.50" stroke="#e23a47" stroke-width="0.62"/>
<rect x="443.87" y="229.25" width="1.75" height="8.15" fill="#e23a47"/>
<line x1="447.04" y1="229.62" x2="447.04" y2="244.90" stroke="#2389f2" stroke-width="0.62"/>
<rect x="446.16" y="230.50" width="1.75" height="6.90" fill="#2389f2"/>
<line x1="449.33" y1="206.00" x2="449.33" y2="233.00" stroke="#2389f2" stroke-width="0.62"/>
<rect x="448.45" y="208.75" width="1.75" height="22.50" fill="#2389f2"/>
<line x1="451.62" y1="184.00" x2="451.62" y2="215.59" stroke="#2389f2" stroke-width="0.62"/>
<rect x="450.75" y="187.50" width="1.75" height="27.50" fill="#2389f2"/>
<line x1="453.91" y1="178.00" x2="453.91" y2="200.41" stroke="#2389f2" stroke-width="0.62"/>
<rect x="453.04" y="182.00" width="1.75" height="18.00" fill="#2389f2"/>
<line x1="456.20" y1="185.17" x2="456.20" y2="216.50" stroke="#e23a47" stroke-width="0.62"/>
<rect x="455.33" y="187.50" width="1.75" height="27.50" fill="#e23a47"/>
<line x1="458.50" y1="200.12" x2="458.50" y2="213.31" stroke="#2389f2" stroke-width="0.62"/>
<rect x="457.62" y="201.00" width="1.75" height="10.00" fill="#2389f2"/>
<line x1="460.79" y1="187.17" x2="460.79" y2="208.39" stroke="#2389f2" stroke-width="0.62"/>
<rect x="459.91" y="187.50" width="1.75" height="20.00" fill="#2389f2"/>
<line x1="463.08" y1="182.50" x2="463.08" y2="214.23" stroke="#e23a47" stroke-width="0.62"/>
<rect x="462.20" y="184.00" width="1.75" height="30.00" fill="#e23a47"/>
<line x1="465.37" y1="198.07" x2="465.37" y2="215.87" stroke="#e23a47" stroke-width="0.62"/>
<rect x="464.50" y="199.00" width="1.75" height="16.00" fill="#e23a47"/>
<line x1="467.66" y1="212.25" x2="467.66" y2="224.00" stroke="#e23a47" stroke-width="0.62"/>
<rect x="466.79" y="212.50" width="1.75" height="10.00" fill="#e23a47"/>
<line x1="469.95" y1="213.33" x2="469.95" y2="227.00" stroke="#2389f2" stroke-width="0.62"/>
<rect x="469.08" y="214.00" width="1.75" height="11.00" fill="#2389f2"/>
<line x1="472.25" y1="210.99" x2="472.25" y2="220.02" stroke="#2389f2" stroke-width="0.62"/>
<rect x="471.37" y="211.00" width="1.75" height="9.00" fill="#2389f2"/>
<line x1="474.54" y1="206.84" x2="474.54" y2="217.18" stroke="#2389f2" stroke-width="0.62"/>
<rect x="473.66" y="207.00" width="1.75" height="10.00" fill="#2389f2"/>
<line x1="476.83" y1="202.64" x2="476.83" y2="210.98" stroke="#2389f2" stroke-width="0.62"/>
<rect x="475.95" y="203.00" width="1.75" height="7.00" fill="#2389f2"/>
<line x1="479.12" y1="195.00" x2="479.12" y2="206.03" stroke="#2389f2" stroke-width="0.62"/>
<rect x="478.25" y="200.00" width="1.75" height="6.00" fill="#2389f2"/>
<line x1="481.41" y1="198.59" x2="481.41" y2="204.41" stroke="#2389f2" stroke-width="0.62"/>
<rect x="480.54" y="198.75" width="1.75" height="5.65" fill="#2389f2"/>
<line x1="483.70" y1="200.00" x2="483.70" y2="205.64" stroke="#e23a47" stroke-width="0.62"/>
<rect x="482.83" y="200.00" width="1.75" height="5.50" fill="#e23a47"/>
<line x1="486.00" y1="201.10" x2="486.00" y2="206.83" stroke="#2389f2" stroke-width="0.62"/>
<rect x="485.12" y="202.00" width="1.75" height="4.00" fill="#2389f2"/>
<line x1="488.29" y1="195.00" x2="488.29" y2="204.44" stroke="#2389f2" stroke-width="0.62"/>
<rect x="487.41" y="197.50" width="1.75" height="6.90" fill="#2389f2"/>
<line x1="490.58" y1="185.60" x2="490.58" y2="199.62" stroke="#2389f2" stroke-width="0.62"/>
<rect x="489.70" y="193.75" width="1.75" height="5.00" fill="#2389f2"/>
<line x1="492.87" y1="191.44" x2="492.87" y2="197.88" stroke="#e23a47" stroke-width="0.62"/>
<rect x="492.00" y="191.90" width="1.75" height="5.00" fill="#e23a47"/>
<line x1="495.16" y1="191.90" x2="495.16" y2="201.17" stroke="#2389f2" stroke-width="0.62"/>
<rect x="494.29" y="193.00" width="1.75" height="7.00" fill="#2389f2"/>
<line x1="497.45" y1="190.00" x2="497.45" y2="196.73" stroke="#e23a47" stroke-width="0.62"/>
<rect x="496.58" y="194.40" width="1.75" height="1.85" fill="#e23a47"/>
<line x1="499.75" y1="185.33" x2="499.75" y2="199.40" stroke="#2389f2" stroke-width="0.62"/>
<rect x="498.87" y="186.25" width="1.75" height="10.00" fill="#2389f2"/>
<line x1="502.04" y1="167.50" x2="502.04" y2="192.00" stroke="#2389f2" stroke-width="0.62"/>
<rect x="501.16" y="169.40" width="1.75" height="18.60" fill="#2389f2"/>
<line x1="504.33" y1="169.18" x2="504.33" y2="175.60" stroke="#e23a47" stroke-width="0.62"/>
<rect x="503.45" y="169.40" width="1.75" height="2.50" fill="#e23a47"/>
<line x1="506.62" y1="162.00" x2="506.62" y2="173.00" stroke="#2389f2" stroke-width="0.62"/>
<rect x="505.75" y="168.00" width="1.75" height="3.25" fill="#2389f2"/>
<line x1="508.91" y1="160.00" x2="508.91" y2="168.84" stroke="#2389f2" stroke-width="0.62"/>
<rect x="508.04" y="165.60" width="1.75" height="3.15" fill="#2389f2"/>
<line x1="511.20" y1="157.06" x2="511.20" y2="172.50" stroke="#2389f2" stroke-width="0.62"/>
<rect x="510.33" y="157.50" width="1.75" height="8.75" fill="#2389f2"/>
<line x1="513.50" y1="156.00" x2="513.50" y2="167.52" stroke="#e23a47" stroke-width="0.62"/>
<rect x="512.62" y="157.50" width="1.75" height="10.00" fill="#e23a47"/>
<line x1="515.79" y1="165.67" x2="515.79" y2="181.00" stroke="#e23a47" stroke-width="0.62"/>
<rect x="514.91" y="166.25" width="1.75" height="13.75" fill="#e23a47"/>
<line x1="518.08" y1="174.38" x2="518.08" y2="188.75" stroke="#2389f2" stroke-width="0.62"/>
<rect x="517.20" y="174.40" width="1.75" height="5.00" fill="#2389f2"/>
<line x1="520.37" y1="159.00" x2="520.37" y2="176.05" stroke="#2389f2" stroke-width="0.62"/>
<rect x="519.50" y="160.60" width="1.75" height="15.00" fill="#2389f2"/>
<line x1="522.66" y1="161.75" x2="522.66" y2="168.05" stroke="#e23a47" stroke-width="0.62"/>
<rect x="521.79" y="161.90" width="1.75" height="6.10" fill="#e23a47"/>
<line x1="524.95" y1="160.00" x2="524.95" y2="171.57" stroke="#e23a47" stroke-width="0.62"/>
<rect x="524.08" y="167.50" width="1.75" height="3.50" fill="#e23a47"/>
<line x1="527.25" y1="163.75" x2="527.25" y2="170.76" stroke="#2389f2" stroke-width="0.62"/>
<rect x="526.37" y="164.40" width="1.75" height="6.20" fill="#2389f2"/>
<line x1="529.54" y1="157.88" x2="529.54" y2="164.95" stroke="#2389f2" stroke-width="0.62"/>
<rect x="528.66" y="158.00" width="1.75" height="6.75" fill="#2389f2"/>
<line x1="531.83" y1="157.97" x2="531.83" y2="162.38" stroke="#e23a47" stroke-width="0.62"/>
<rect x="530.95" y="158.00" width="1.75" height="3.90" fill="#e23a47"/>
<line x1="534.12" y1="160.38" x2="534.12" y2="165.00" stroke="#e23a47" stroke-width="0.62"/>
<rect x="533.25" y="160.60" width="1.75" height="1.90" fill="#e23a47"/>
<line x1="536.41" y1="161.90" x2="536.41" y2="167.15" stroke="#2389f2" stroke-width="0.62"/>
<rect x="535.54" y="164.40" width="1.75" height="2.50" fill="#2389f2"/>
<line x1="538.70" y1="158.00" x2="538.70" y2="166.66" stroke="#2389f2" stroke-width="0.62"/>
<rect x="537.83" y="163.75" width="1.75" height="1.85" fill="#2389f2"/>
<line x1="541.00" y1="163.61" x2="541.00" y2="169.99" stroke="#e23a47" stroke-width="0.62"/>
<rect x="540.12" y="163.75" width="1.75" height="5.65" fill="#e23a47"/>
<line x1="543.29" y1="166.83" x2="543.29" y2="172.00" stroke="#2389f2" stroke-width="0.62"/>
<rect x="542.41" y="166.90" width="1.75" height="2.50" fill="#2389f2"/>
<line x1="545.58" y1="163.65" x2="545.58" y2="169.66" stroke="#2389f2" stroke-width="0.62"/>
<rect x="544.70" y="163.75" width="1.75" height="5.00" fill="#2389f2"/>
<line x1="547.87" y1="157.90" x2="547.87" y2="166.48" stroke="#2389f2" stroke-width="0.62"/>
<rect x="547.00" y="158.00" width="1.75" height="7.60" fill="#2389f2"/>
<line x1="550.16" y1="156.85" x2="550.16" y2="165.50" stroke="#2389f2" stroke-width="0.62"/>
<rect x="549.29" y="157.40" width="1.75" height="3.10" fill="#2389f2"/>
<line x1="552.46" y1="149.25" x2="552.46" y2="157.58" stroke="#2389f2" stroke-width="0.62"/>
<rect x="551.58" y="151.00" width="1.75" height="6.40" fill="#2389f2"/>
<line x1="554.75" y1="148.00" x2="554.75" y2="156.43" stroke="#e23a47" stroke-width="0.62"/>
<rect x="553.87" y="151.00" width="1.75" height="5.00" fill="#e23a47"/>
<line x1="557.04" y1="154.66" x2="557.04" y2="163.60" stroke="#e23a47" stroke-width="0.62"/>
<rect x="556.16" y="154.90" width="1.75" height="3.10" fill="#e23a47"/>
<line x1="559.33" y1="146.54" x2="559.33" y2="161.75" stroke="#2389f2" stroke-width="0.62"/>
<rect x="558.46" y="146.75" width="1.75" height="11.25" fill="#2389f2"/>
<line x1="561.62" y1="141.00" x2="561.62" y2="149.25" stroke="#2389f2" stroke-width="0.62"/>
<rect x="560.75" y="144.25" width="1.75" height="3.15" fill="#2389f2"/>
<line x1="563.91" y1="137.40" x2="563.91" y2="145.48" stroke="#2389f2" stroke-width="0.62"/>
<rect x="563.04" y="141.00" width="1.75" height="3.90" fill="#2389f2"/>
<line x1="566.21" y1="135.00" x2="566.21" y2="142.47" stroke="#2389f2" stroke-width="0.62"/>
<rect x="565.33" y="139.90" width="1.75" height="2.50" fill="#2389f2"/>
<line x1="568.50" y1="139.70" x2="568.50" y2="149.90" stroke="#e23a47" stroke-width="0.62"/>
<rect x="567.62" y="139.90" width="1.75" height="4.35" fill="#e23a47"/>
<line x1="570.79" y1="138.60" x2="570.79" y2="148.68" stroke="#e23a47" stroke-width="0.62"/>
<rect x="569.91" y="143.60" width="1.75" height="5.00" fill="#e23a47"/>
<line x1="573.08" y1="141.75" x2="573.08" y2="151.00" stroke="#2389f2" stroke-width="0.62"/>
<rect x="572.21" y="145.50" width="1.75" height="2.50" fill="#2389f2"/>
<line x1="575.37" y1="137.79" x2="575.37" y2="154.90" stroke="#2389f2" stroke-width="0.62"/>
<rect x="574.50" y="138.60" width="1.75" height="7.40" fill="#2389f2"/>
<line x1="577.66" y1="138.18" x2="577.66" y2="149.61" stroke="#e23a47" stroke-width="0.62"/>
<rect x="576.79" y="138.60" width="1.75" height="10.65" fill="#e23a47"/>
<line x1="579.96" y1="144.90" x2="579.96" y2="154.90" stroke="#e23a47" stroke-width="0.62"/>
<rect x="579.08" y="147.40" width="1.75" height="5.60" fill="#e23a47"/>
<line x1="582.25" y1="144.90" x2="582.25" y2="153.16" stroke="#2389f2" stroke-width="0.62"/>
<rect x="581.37" y="149.90" width="1.75" height="3.10" fill="#2389f2"/>
<line x1="584.54" y1="149.08" x2="584.54" y2="154.90" stroke="#e23a47" stroke-width="0.62"/>
<rect x="583.66" y="149.25" width="1.75" height="1.75" fill="#e23a47"/>
<line x1="586.83" y1="144.96" x2="586.83" y2="151.14" stroke="#2389f2" stroke-width="0.62"/>
<rect x="585.96" y="145.50" width="1.75" height="5.50" fill="#2389f2"/>
<line x1="589.12" y1="143.00" x2="589.12" y2="146.58" stroke="#2389f2" stroke-width="0.62"/>
<rect x="588.25" y="144.25" width="1.75" height="1.25" fill="#2389f2"/>
<line x1="591.41" y1="144.25" x2="591.41" y2="151.00" stroke="#2389f2" stroke-width="0.62"/>
<rect x="590.54" y="148.00" width="1.75" height="1.25" fill="#2389f2"/>
<line x1="593.71" y1="140.74" x2="593.71" y2="148.16" stroke="#2389f2" stroke-width="0.62"/>
<rect x="592.83" y="141.00" width="1.75" height="7.00" fill="#2389f2"/>
<line x1="596.00" y1="141.24" x2="596.00" y2="146.87" stroke="#e23a47" stroke-width="0.62"/>
<rect x="595.12" y="141.50" width="1.75" height="5.25" fill="#e23a47"/>
<line x1="598.29" y1="134.90" x2="598.29" y2="145.34" stroke="#2389f2" stroke-width="0.62"/>
<rect x="597.41" y="137.40" width="1.75" height="7.50" fill="#2389f2"/>
<line x1="600.58" y1="133.60" x2="600.58" y2="139.74" stroke="#2389f2" stroke-width="0.62"/>
<rect x="599.71" y="136.00" width="1.75" height="2.60" fill="#2389f2"/>
<line x1="602.87" y1="133.60" x2="602.87" y2="139.50" stroke="#e23a47" stroke-width="0.62"/>
<rect x="602.00" y="136.00" width="1.75" height="2.60" fill="#e23a47"/>
<line x1="605.16" y1="129.68" x2="605.16" y2="138.26" stroke="#2389f2" stroke-width="0.62"/>
<rect x="604.29" y="130.50" width="1.75" height="7.25" fill="#2389f2"/>
<line x1="607.46" y1="129.31" x2="607.46" y2="133.60" stroke="#2389f2" stroke-width="0.62"/>
<rect x="606.58" y="129.90" width="1.75" height="2.50" fill="#2389f2"/>
<line x1="609.75" y1="119.90" x2="609.75" y2="132.01" stroke="#2389f2" stroke-width="0.62"/>
<rect x="608.87" y="121.00" width="1.75" height="10.75" fill="#2389f2"/>
<line x1="612.04" y1="121.56" x2="612.04" y2="133.60" stroke="#e23a47" stroke-width="0.62"/>
<rect x="611.16" y="121.75" width="1.75" height="10.00" fill="#e23a47"/>
<line x1="614.33" y1="122.34" x2="614.33" y2="132.93" stroke="#2389f2" stroke-width="0.62"/>
<rect x="613.46" y="122.40" width="1.75" height="9.35" fill="#2389f2"/>
<line x1="616.62" y1="119.85" x2="616.62" y2="129.90" stroke="#2389f2" stroke-width="0.62"/>
<rect x="615.75" y="119.90" width="1.75" height="3.10" fill="#2389f2"/>
<line x1="618.91" y1="119.88" x2="618.91" y2="132.40" stroke="#e23a47" stroke-width="0.62"/>
<rect x="618.04" y="119.90" width="1.75" height="10.00" fill="#e23a47"/>
<line x1="621.21" y1="124.90" x2="621.21" y2="131.01" stroke="#e23a47" stroke-width="0.62"/>
<rect x="620.33" y="128.60" width="1.75" height="2.40" fill="#e23a47"/>
<line x1="623.50" y1="126.47" x2="623.50" y2="133.60" stroke="#2389f2" stroke-width="0.62"/>
<rect x="622.62" y="126.50" width="1.75" height="4.50" fill="#2389f2"/>
<line x1="625.79" y1="126.93" x2="625.79" y2="136.75" stroke="#e23a47" stroke-width="0.62"/>
<rect x="624.91" y="127.40" width="1.75" height="6.20" fill="#e23a47"/>
<line x1="628.08" y1="127.40" x2="628.08" y2="134.39" stroke="#2389f2" stroke-width="0.62"/>
<rect x="627.21" y="131.00" width="1.75" height="2.60" fill="#2389f2"/>
<line x1="630.37" y1="129.25" x2="630.37" y2="141.75" stroke="#e23a47" stroke-width="0.62"/>
<rect x="629.50" y="130.50" width="1.75" height="3.10" fill="#e23a47"/>
<line x1="632.66" y1="132.98" x2="632.66" y2="146.00" stroke="#e23a47" stroke-width="0.62"/>
<rect x="631.79" y="133.00" width="1.75" height="6.25" fill="#e23a47"/>
<line x1="634.96" y1="138.00" x2="634.96" y2="145.14" stroke="#e23a47" stroke-width="0.62"/>
<rect x="634.08" y="138.00" width="1.75" height="6.25" fill="#e23a47"/>
<line x1="637.25" y1="141.00" x2="637.25" y2="152.40" stroke="#e23a47" stroke-width="0.62"/>
<rect x="636.37" y="143.00" width="1.75" height="7.50" fill="#e23a47"/>
<line x1="639.54" y1="144.25" x2="639.54" y2="150.65" stroke="#2389f2" stroke-width="0.62"/>
<rect x="638.66" y="144.25" width="1.75" height="6.25" fill="#2389f2"/>
<line x1="641.83" y1="136.50" x2="641.83" y2="145.24" stroke="#2389f2" stroke-width="0.62"/>
<rect x="640.96" y="141.75" width="1.75" height="3.15" fill="#2389f2"/>
<line x1="644.12" y1="137.40" x2="644.12" y2="144.90" stroke="#2389f2" stroke-width="0.62"/>
<rect x="643.25" y="138.60" width="1.75" height="3.80" fill="#2389f2"/>
<line x1="646.41" y1="137.40" x2="646.41" y2="144.56" stroke="#2389f2" stroke-width="0.62"/>
<rect x="645.54" y="139.25" width="1.75" height="5.00" fill="#2389f2"/>
<line x1="648.71" y1="138.98" x2="648.71" y2="144.25" stroke="#e23a47" stroke-width="0.62"/>
<rect x="647.83" y="139.00" width="1.75" height="2.75" fill="#e23a47"/>
<line x1="651.00" y1="139.25" x2="651.00" y2="144.26" stroke="#e23a47" stroke-width="0.62"/>
<rect x="650.12" y="141.00" width="1.75" height="3.25" fill="#e23a47"/>
<line x1="653.29" y1="143.29" x2="653.29" y2="152.50" stroke="#e23a47" stroke-width="0.62"/>
<rect x="652.41" y="143.60" width="1.75" height="8.80" fill="#e23a47"/>
<line x1="655.58" y1="149.77" x2="655.58" y2="156.00" stroke="#2389f2" stroke-width="0.62"/>
<rect x="654.71" y="150.50" width="1.75" height="1.90" fill="#2389f2"/>
<line x1="657.87" y1="144.25" x2="657.87" y2="151.00" stroke="#2389f2" stroke-width="0.62"/>
<rect x="657.00" y="145.50" width="1.75" height="5.50" fill="#2389f2"/>
<line x1="660.16" y1="144.02" x2="660.16" y2="151.70" stroke="#e23a47" stroke-width="0.62"/>
<rect x="659.29" y="145.60" width="1.75" height="5.65" fill="#e23a47"/>
<line x1="662.46" y1="148.15" x2="662.46" y2="154.15" stroke="#e23a47" stroke-width="0.62"/>
<rect x="661.58" y="150.00" width="1.75" height="3.75" fill="#e23a47"/>
<line x1="664.75" y1="147.80" x2="664.75" y2="156.16" stroke="#2389f2" stroke-width="0.62"/>
<rect x="663.87" y="148.00" width="1.75" height="7.00" fill="#2389f2"/>
<line x1="667.04" y1="143.73" x2="667.04" y2="158.02" stroke="#2389f2" stroke-width="0.62"/>
<rect x="666.17" y="143.75" width="1.75" height="11.85" fill="#2389f2"/>
<line x1="669.33" y1="137.02" x2="669.33" y2="146.52" stroke="#2389f2" stroke-width="0.62"/>
<rect x="668.46" y="138.75" width="1.75" height="7.50" fill="#2389f2"/>
<line x1="671.62" y1="136.50" x2="671.62" y2="144.18" stroke="#e23a47" stroke-width="0.62"/>
<rect x="670.75" y="137.50" width="1.75" height="5.00" fill="#e23a47"/>
<line x1="673.92" y1="137.45" x2="673.92" y2="142.28" stroke="#2389f2" stroke-width="0.62"/>
<rect x="673.04" y="139.00" width="1.75" height="2.25" fill="#2389f2"/>
<line x1="676.21" y1="139.99" x2="676.21" y2="149.46" stroke="#e23a47" stroke-width="0.62"/>
<rect x="675.33" y="140.00" width="1.75" height="8.00" fill="#e23a47"/>
<line x1="678.50" y1="142.49" x2="678.50" y2="151.00" stroke="#2389f2" stroke-width="0.62"/>
<rect x="677.62" y="142.50" width="1.75" height="6.25" fill="#2389f2"/>
<line x1="680.79" y1="135.49" x2="680.79" y2="149.50" stroke="#2389f2" stroke-width="0.62"/>
<rect x="679.92" y="136.25" width="1.75" height="10.65" fill="#2389f2"/>
<line x1="683.08" y1="131.98" x2="683.08" y2="137.50" stroke="#2389f2" stroke-width="0.62"/>
<rect x="682.21" y="133.00" width="1.75" height="4.50" fill="#2389f2"/>
<line x1="685.37" y1="127.00" x2="685.37" y2="146.00" stroke="#e23a47" stroke-width="0.62"/>
<rect x="684.50" y="133.00" width="1.75" height="12.00" fill="#e23a47"/>
<line x1="687.67" y1="132.16" x2="687.67" y2="144.40" stroke="#2389f2" stroke-width="0.62"/>
<rect x="686.79" y="133.00" width="1.75" height="11.40" fill="#2389f2"/>
<line x1="689.96" y1="129.00" x2="689.96" y2="135.44" stroke="#2389f2" stroke-width="0.62"/>
<rect x="689.08" y="131.00" width="1.75" height="4.00" fill="#2389f2"/>
<line x1="692.25" y1="131.60" x2="692.25" y2="138.50" stroke="#e23a47" stroke-width="0.62"/>
<rect x="691.37" y="132.75" width="1.75" height="4.75" fill="#e23a47"/>
<line x1="694.54" y1="125.65" x2="694.54" y2="135.61" stroke="#2389f2" stroke-width="0.62"/>
<rect x="693.67" y="127.75" width="1.75" height="7.85" fill="#2389f2"/>
<line x1="696.83" y1="127.22" x2="696.83" y2="131.09" stroke="#e23a47" stroke-width="0.62"/>
<rect x="695.96" y="128.75" width="1.75" height="1.85" fill="#e23a47"/>
<line x1="699.12" y1="127.99" x2="699.12" y2="131.36" stroke="#e23a47" stroke-width="0.62"/>
<rect x="698.25" y="129.40" width="1.75" height="1.60" fill="#e23a47"/>
<line x1="701.42" y1="128.50" x2="701.42" y2="137.50" stroke="#2389f2" stroke-width="0.62"/>
<rect x="700.54" y="130.00" width="1.75" height="6.25" fill="#2389f2"/>
<line x1="703.71" y1="127.00" x2="703.71" y2="133.26" stroke="#e23a47" stroke-width="0.62"/>
<rect x="702.83" y="128.00" width="1.75" height="5.00" fill="#e23a47"/>
<line x1="706.00" y1="128.05" x2="706.00" y2="132.26" stroke="#2389f2" stroke-width="0.62"/>
<rect x="705.12" y="129.40" width="1.75" height="2.85" fill="#2389f2"/>
<line x1="708.29" y1="122.97" x2="708.29" y2="131.14" stroke="#2389f2" stroke-width="0.62"/>
<rect x="707.42" y="123.00" width="1.75" height="6.40" fill="#2389f2"/>
<line x1="710.58" y1="122.50" x2="710.58" y2="129.50" stroke="#e23a47" stroke-width="0.62"/>
<rect x="709.71" y="123.00" width="1.75" height="5.75" fill="#e23a47"/>
<line x1="712.87" y1="126.22" x2="712.87" y2="130.04" stroke="#2389f2" stroke-width="0.62"/>
<rect x="712.00" y="126.25" width="1.75" height="3.75" fill="#2389f2"/>
<line x1="715.17" y1="126.66" x2="715.17" y2="132.27" stroke="#e23a47" stroke-width="0.62"/>
<rect x="714.29" y="126.90" width="1.75" height="3.10" fill="#e23a47"/>
<line x1="717.46" y1="127.22" x2="717.46" y2="131.88" stroke="#e23a47" stroke-width="0.62"/>
<rect x="716.58" y="128.00" width="1.75" height="1.75" fill="#e23a47"/>
<line x1="719.75" y1="127.14" x2="719.75" y2="130.18" stroke="#2389f2" stroke-width="0.62"/>
<rect x="718.87" y="127.25" width="1.75" height="2.50" fill="#2389f2"/>
<line x1="722.04" y1="127.28" x2="722.04" y2="131.51" stroke="#e23a47" stroke-width="0.62"/>
<rect x="721.17" y="128.00" width="1.75" height="1.75" fill="#e23a47"/>
<line x1="724.33" y1="124.50" x2="724.33" y2="132.51" stroke="#e23a47" stroke-width="0.62"/>
<rect x="723.46" y="128.60" width="1.75" height="2.00" fill="#e23a47"/>
<line x1="726.62" y1="126.34" x2="726.62" y2="133.50" stroke="#2389f2" stroke-width="0.62"/>
<rect x="725.75" y="126.90" width="1.75" height="4.10" fill="#2389f2"/>
<line x1="728.92" y1="126.03" x2="728.92" y2="128.86" stroke="#e23a47" stroke-width="0.62"/>
<rect x="728.04" y="126.50" width="1.75" height="2.00" fill="#e23a47"/>
<line x1="731.21" y1="124.26" x2="731.21" y2="129.80" stroke="#2389f2" stroke-width="0.62"/>
<rect x="730.33" y="125.40" width="1.75" height="2.60" fill="#2389f2"/>
<line x1="733.50" y1="123.79" x2="733.50" y2="128.69" stroke="#e23a47" stroke-width="0.62"/>
<rect x="732.62" y="124.40" width="1.75" height="3.10" fill="#e23a47"/>
<line x1="735.79" y1="124.02" x2="735.79" y2="128.42" stroke="#2389f2" stroke-width="0.62"/>
<rect x="734.92" y="124.40" width="1.75" height="2.50" fill="#2389f2"/>
<line x1="738.08" y1="124.97" x2="738.08" y2="128.63" stroke="#e23a47" stroke-width="0.62"/>
<rect x="737.21" y="125.00" width="1.75" height="2.25" fill="#e23a47"/>
<line x1="740.37" y1="122.18" x2="740.37" y2="127.36" stroke="#2389f2" stroke-width="0.62"/>
<rect x="739.50" y="122.25" width="1.75" height="4.25" fill="#2389f2"/>
<line x1="742.67" y1="122.65" x2="742.67" y2="128.00" stroke="#e23a47" stroke-width="0.62"/>
<rect x="741.79" y="122.75" width="1.75" height="3.50" fill="#e23a47"/>
<line x1="744.96" y1="122.18" x2="744.96" y2="126.31" stroke="#2389f2" stroke-width="0.62"/>
<rect x="744.08" y="122.25" width="1.75" height="3.75" fill="#2389f2"/>
<line x1="747.25" y1="121.63" x2="747.25" y2="124.43" stroke="#e23a47" stroke-width="0.62"/>
<rect x="746.37" y="122.50" width="1.75" height="1.25" fill="#e23a47"/>
<line x1="749.54" y1="121.12" x2="749.54" y2="124.57" stroke="#2389f2" stroke-width="0.62"/>
<rect x="748.67" y="121.50" width="1.75" height="2.25" fill="#2389f2"/>
<line x1="751.83" y1="117.63" x2="751.83" y2="122.57" stroke="#2389f2" stroke-width="0.62"/>
<rect x="750.96" y="119.40" width="1.75" height="2.85" fill="#2389f2"/>
<line x1="754.12" y1="116.00" x2="754.12" y2="121.18" stroke="#2389f2" stroke-width="0.62"/>
<rect x="753.25" y="116.90" width="1.75" height="3.70" fill="#2389f2"/>
<line x1="756.42" y1="118.00" x2="756.42" y2="131.50" stroke="#2389f2" stroke-width="0.62"/>
<rect x="755.54" y="120.60" width="1.75" height="10.40" fill="#2389f2"/>
<line x1="758.71" y1="113.18" x2="758.71" y2="123.89" stroke="#2389f2" stroke-width="0.62"/>
<rect x="757.83" y="114.40" width="1.75" height="9.35" fill="#2389f2"/>
<line x1="761.00" y1="108.33" x2="761.00" y2="116.33" stroke="#2389f2" stroke-width="0.62"/>
<rect x="760.12" y="108.50" width="1.75" height="6.50" fill="#2389f2"/>
<line x1="763.29" y1="96.17" x2="763.29" y2="110.42" stroke="#2389f2" stroke-width="0.62"/>
<rect x="762.42" y="97.00" width="1.75" height="13.25" fill="#2389f2"/>
<line x1="765.58" y1="92.00" x2="765.58" y2="100.70" stroke="#2389f2" stroke-width="0.62"/>
<rect x="764.71" y="93.00" width="1.75" height="6.00" fill="#2389f2"/>
<line x1="767.87" y1="86.64" x2="767.87" y2="97.28" stroke="#2389f2" stroke-width="0.62"/>
<rect x="767.00" y="87.00" width="1.75" height="9.00" fill="#2389f2"/>
<line x1="770.17" y1="81.53" x2="770.17" y2="88.45" stroke="#2389f2" stroke-width="0.62"/>
<rect x="769.29" y="82.00" width="1.75" height="5.50" fill="#2389f2"/>
<line x1="772.46" y1="82.50" x2="772.46" y2="89.50" stroke="#2389f2" stroke-width="0.62"/>
<rect x="771.58" y="84.60" width="1.75" height="1.00" fill="#2389f2"/>
<line x1="774.75" y1="77.00" x2="774.75" y2="83.50" stroke="#2389f2" stroke-width="0.62"/>
<rect x="773.88" y="77.50" width="1.75" height="5.00" fill="#2389f2"/>
<line x1="0" y1="157.45" x2="990.0" y2="157.45" stroke="#b3b8c1" stroke-width="1.05" stroke-dasharray="10.3 3.45" stroke-dashoffset="0.25" opacity="1.0"/>
<line x1="0" y1="355.75" x2="990.0" y2="276.95" stroke="#b4b9c2" stroke-width="0.85" stroke-dasharray="10.3 3.45" stroke-dashoffset="-1.25"/>
<g stroke="#ffffff" stroke-width="1.7" fill="none" stroke-linecap="round" stroke-linejoin="round"><path d="M837.6 55.4 L854.2 21.2"/><path d="M846 26.6 L854.2 21.2 L852.8 30.4"/></g>
<g stroke="#ec1f2a" stroke-width="1.9" fill="none" stroke-linecap="round" stroke-linejoin="round"><path d="M807.6 69 L831.9 146.2 L845.5 116.8"/><path d="M838.3 122.8 L845.5 116.8 L846 126"/></g>
<path d="M773.6 2 L781.4 2 L777.5 5.4 Z" fill="#b4bac4"/>
<rect x="944.4" y="36" width="1.6" height="2.6" fill="#000"/>
<circle cx="802.6" cy="160.7" r="0.9" fill="#e8eaee"/>
<rect x="-0.66" y="444.25" width="1.64" height="0.70" fill="#3ccb78"/>
<rect x="1.63" y="444.25" width="1.64" height="0.70" fill="#3ccb78"/>
<rect x="3.92" y="444.25" width="1.64" height="0.70" fill="#3ccb78"/>
<rect x="6.21" y="444.25" width="1.64" height="0.70" fill="#3ccb78"/>
<rect x="8.50" y="444.25" width="1.64" height="0.70" fill="#3ccb78"/>
<rect x="10.79" y="444.25" width="1.64" height="0.73" fill="#3ccb78"/>
<rect x="13.09" y="444.25" width="1.64" height="0.85" fill="#3ccb78"/>
<rect x="15.38" y="444.25" width="1.64" height="0.96" fill="#3ccb78"/>
<rect x="17.67" y="444.25" width="1.64" height="1.07" fill="#3ccb78"/>
<rect x="19.96" y="444.25" width="1.64" height="1.18" fill="#3ccb78"/>
<rect x="22.25" y="444.25" width="1.64" height="1.25" fill="#3ccb78"/>
<rect x="24.54" y="444.25" width="1.64" height="1.33" fill="#3ccb78"/>
<rect x="26.84" y="444.25" width="1.64" height="1.18" fill="#3ccb78"/>
<rect x="29.13" y="444.25" width="1.64" height="0.96" fill="#3ccb78"/>
<rect x="31.42" y="444.25" width="1.64" height="0.74" fill="#3ccb78"/>
<rect x="33.71" y="444.25" width="1.64" height="0.70" fill="#3ccb78"/>
<rect x="36.00" y="444.25" width="1.64" height="0.70" fill="#3ccb78"/>
<rect x="38.29" y="444.25" width="1.64" height="0.70" fill="#3ccb78"/>
<rect x="40.59" y="444.25" width="1.64" height="0.70" fill="#3ccb78"/>
<rect x="42.88" y="444.25" width="1.64" height="0.70" fill="#3ccb78"/>
<rect x="45.17" y="444.25" width="1.64" height="0.70" fill="#3ccb78"/>
<rect x="47.46" y="444.20" width="1.64" height="0.70" fill="#3ccb78"/>
<rect x="49.75" y="444.20" width="1.64" height="0.70" fill="#3ccb78"/>
<rect x="52.04" y="444.20" width="1.64" height="0.70" fill="#3ccb78"/>
<rect x="54.34" y="444.20" width="1.64" height="0.70" fill="#3ccb78"/>
<rect x="56.63" y="444.25" width="1.64" height="0.70" fill="#3ccb78"/>
<rect x="58.92" y="444.25" width="1.64" height="0.70" fill="#3ccb78"/>
<rect x="61.21" y="444.25" width="1.64" height="0.70" fill="#3ccb78"/>
<rect x="63.50" y="444.25" width="1.64" height="0.70" fill="#3ccb78"/>
<rect x="65.79" y="443.92" width="1.64" height="0.70" fill="#3ccb78"/>
<rect x="68.09" y="443.61" width="1.64" height="0.70" fill="#3ccb78"/>
<rect x="70.38" y="443.31" width="1.64" height="0.94" fill="#3ccb78"/>
<rect x="72.67" y="442.96" width="1.64" height="1.29" fill="#3ccb78"/>
<rect x="74.96" y="442.59" width="1.64" height="1.66" fill="#3ccb78"/>
<rect x="77.25" y="442.21" width="1.64" height="2.04" fill="#3ccb78"/>
<rect x="79.54" y="441.85" width="1.64" height="2.40" fill="#3ccb78"/>
<rect x="81.84" y="441.50" width="1.64" height="2.75" fill="#3ccb78"/>
<rect x="84.13" y="441.16" width="1.64" height="3.09" fill="#3ccb78"/>
<rect x="86.42" y="440.81" width="1.64" height="3.44" fill="#3ccb78"/>
<rect x="88.71" y="440.47" width="1.64" height="3.78" fill="#3ccb78"/>
<rect x="91.00" y="440.10" width="1.64" height="4.15" fill="#3ccb78"/>
<rect x="93.30" y="439.72" width="1.64" height="4.53" fill="#3ccb78"/>
<rect x="95.59" y="439.34" width="1.64" height="4.91" fill="#3ccb78"/>
<rect x="97.88" y="438.96" width="1.64" height="5.29" fill="#3ccb78"/>
<rect x="100.17" y="438.35" width="1.64" height="5.90" fill="#3ccb78"/>
<rect x="102.46" y="437.44" width="1.64" height="6.81" fill="#3ccb78"/>
<rect x="104.75" y="436.52" width="1.64" height="7.73" fill="#3ccb78"/>
<rect x="107.05" y="435.60" width="1.64" height="8.65" fill="#3ccb78"/>
<rect x="109.34" y="434.69" width="1.64" height="9.56" fill="#3ccb78"/>
<rect x="111.63" y="433.77" width="1.64" height="10.48" fill="#3ccb78"/>
<rect x="113.92" y="432.81" width="1.64" height="11.44" fill="#3ccb78"/>
<rect x="116.21" y="431.85" width="1.64" height="12.40" fill="#3ccb78"/>
<rect x="118.50" y="430.88" width="1.64" height="13.37" fill="#3ccb78"/>
<rect x="120.80" y="430.19" width="1.64" height="14.06" fill="#3ccb78"/>
<rect x="123.09" y="429.62" width="1.64" height="14.63" fill="#3ccb78"/>
<rect x="125.38" y="429.04" width="1.64" height="15.21" fill="#3ccb78"/>
<rect x="127.67" y="428.47" width="1.64" height="15.78" fill="#3ccb78"/>
<rect x="129.96" y="428.64" width="1.64" height="15.61" fill="#3ccb78"/>
<rect x="132.25" y="428.92" width="1.64" height="15.33" fill="#3ccb78"/>
<rect x="134.55" y="429.48" width="1.64" height="14.77" fill="#3ccb78"/>
<rect x="136.84" y="430.10" width="1.64" height="14.15" fill="#3ccb78"/>
<rect x="139.13" y="431.56" width="1.64" height="12.69" fill="#3ccb78"/>
<rect x="141.42" y="433.02" width="1.64" height="11.23" fill="#3ccb78"/>
<rect x="143.71" y="434.31" width="1.64" height="9.94" fill="#3ccb78"/>
<rect x="146.00" y="435.52" width="1.64" height="8.73" fill="#3ccb78"/>
<rect x="148.30" y="436.73" width="1.64" height="7.52" fill="#3ccb78"/>
<rect x="150.59" y="437.67" width="1.64" height="6.58" fill="#3ccb78"/>
<rect x="152.88" y="438.43" width="1.64" height="5.82" fill="#3ccb78"/>
<rect x="155.17" y="439.20" width="1.64" height="5.05" fill="#3ccb78"/>
<rect x="157.46" y="439.83" width="1.64" height="4.42" fill="#3ccb78"/>
<rect x="159.75" y="440.47" width="1.64" height="3.78" fill="#3ccb78"/>
<rect x="162.05" y="441.04" width="1.64" height="3.21" fill="#3ccb78"/>
<rect x="164.34" y="441.29" width="1.64" height="2.96" fill="#3ccb78"/>
<rect x="166.63" y="441.54" width="1.64" height="2.71" fill="#3ccb78"/>
<rect x="168.92" y="441.99" width="1.64" height="2.26" fill="#3ccb78"/>
<rect x="171.21" y="442.57" width="1.64" height="1.68" fill="#3ccb78"/>
<rect x="173.50" y="444.25" width="1.64" height="1.92" fill="#3ccb78"/>
<rect x="175.80" y="444.25" width="1.64" height="3.78" fill="#3ccb78"/>
<rect x="178.09" y="444.25" width="1.64" height="4.82" fill="#3ccb78"/>
<rect x="180.38" y="444.25" width="1.64" height="5.34" fill="#3ccb78"/>
<rect x="182.67" y="444.25" width="1.64" height="5.89" fill="#3ccb78"/>
<rect x="184.96" y="444.25" width="1.64" height="6.52" fill="#3ccb78"/>
<rect x="187.25" y="444.25" width="1.64" height="7.38" fill="#3ccb78"/>
<rect x="189.55" y="444.25" width="1.64" height="8.91" fill="#3ccb78"/>
<rect x="191.84" y="444.25" width="1.64" height="10.44" fill="#3ccb78"/>
<rect x="194.13" y="444.25" width="1.64" height="11.97" fill="#3ccb78"/>
<rect x="196.42" y="444.25" width="1.64" height="13.01" fill="#3ccb78"/>
<rect x="198.71" y="444.25" width="1.64" height="14.04" fill="#3ccb78"/>
<rect x="201.00" y="444.25" width="1.64" height="14.80" fill="#3ccb78"/>
<rect x="203.30" y="444.25" width="1.64" height="15.49" fill="#3ccb78"/>
<rect x="205.59" y="444.25" width="1.64" height="15.81" fill="#3ccb78"/>
<rect x="207.88" y="444.25" width="1.64" height="15.90" fill="#3ccb78"/>
<rect x="210.17" y="444.25" width="1.64" height="15.62" fill="#3ccb78"/>
<rect x="212.46" y="444.25" width="1.64" height="14.84" fill="#3ccb78"/>
<rect x="214.76" y="444.25" width="1.64" height="13.98" fill="#3ccb78"/>
<rect x="217.05" y="444.25" width="1.64" height="13.06" fill="#3ccb78"/>
<rect x="219.34" y="444.25" width="1.64" height="11.89" fill="#3ccb78"/>
<rect x="221.63" y="444.25" width="1.64" height="10.87" fill="#3ccb78"/>
<rect x="223.92" y="444.25" width="1.64" height="10.48" fill="#3ccb78"/>
<rect x="226.21" y="444.25" width="1.64" height="10.08" fill="#3ccb78"/>
<rect x="228.51" y="444.25" width="1.64" height="10.06" fill="#3ccb78"/>
<rect x="230.80" y="444.25" width="1.64" height="10.14" fill="#3ccb78"/>
<rect x="233.09" y="444.25" width="1.64" height="10.44" fill="#3ccb78"/>
<rect x="235.38" y="444.25" width="1.64" height="10.85" fill="#3ccb78"/>
<rect x="237.67" y="444.25" width="1.64" height="12.00" fill="#3ccb78"/>
<rect x="239.96" y="444.25" width="1.64" height="13.02" fill="#3ccb78"/>
<rect x="242.26" y="444.25" width="1.64" height="13.83" fill="#3ccb78"/>
<rect x="244.55" y="444.25" width="1.64" height="14.62" fill="#3ccb78"/>
<rect x="246.84" y="444.25" width="1.64" height="15.38" fill="#3ccb78"/>
<rect x="249.13" y="444.25" width="1.64" height="16.13" fill="#3ccb78"/>
<rect x="251.42" y="444.25" width="1.64" height="16.53" fill="#3ccb78"/>
<rect x="253.71" y="444.25" width="1.64" height="16.92" fill="#3ccb78"/>
<rect x="256.01" y="444.25" width="1.64" height="17.21" fill="#3ccb78"/>
<rect x="258.30" y="444.25" width="1.64" height="17.43" fill="#3ccb78"/>
<rect x="260.59" y="444.25" width="1.64" height="17.14" fill="#3ccb78"/>
<rect x="262.88" y="444.25" width="1.64" height="16.64" fill="#3ccb78"/>
<rect x="265.17" y="444.25" width="1.64" height="15.95" fill="#3ccb78"/>
<rect x="267.46" y="444.25" width="1.64" height="15.12" fill="#3ccb78"/>
<rect x="269.76" y="444.25" width="1.64" height="14.13" fill="#3ccb78"/>
<rect x="272.05" y="444.25" width="1.64" height="12.64" fill="#3ccb78"/>
<rect x="274.34" y="444.25" width="1.64" height="11.15" fill="#3ccb78"/>
<rect x="276.63" y="444.25" width="1.64" height="9.78" fill="#3ccb78"/>
<rect x="278.92" y="444.25" width="1.64" height="8.40" fill="#3ccb78"/>
<rect x="281.21" y="444.25" width="1.64" height="7.64" fill="#3ccb78"/>
<rect x="283.51" y="444.25" width="1.64" height="6.95" fill="#3ccb78"/>
<rect x="285.80" y="444.25" width="1.64" height="6.43" fill="#3ccb78"/>
<rect x="288.09" y="444.25" width="1.64" height="5.97" fill="#3ccb78"/>
<rect x="290.38" y="444.25" width="1.64" height="5.54" fill="#3ccb78"/>
<rect x="292.67" y="444.25" width="1.64" height="5.14" fill="#3ccb78"/>
<rect x="294.96" y="444.25" width="1.64" height="4.74" fill="#3ccb78"/>
<rect x="297.26" y="444.25" width="1.64" height="4.34" fill="#3ccb78"/>
<rect x="299.55" y="444.25" width="1.64" height="3.94" fill="#3ccb78"/>
<rect x="301.84" y="444.25" width="1.64" height="3.57" fill="#3ccb78"/>
<rect x="304.13" y="444.25" width="1.64" height="3.21" fill="#3ccb78"/>
<rect x="306.42" y="444.25" width="1.64" height="2.84" fill="#3ccb78"/>
<rect x="308.71" y="444.25" width="1.64" height="2.47" fill="#3ccb78"/>
<rect x="311.01" y="444.25" width="1.64" height="2.11" fill="#3ccb78"/>
<rect x="313.30" y="444.25" width="1.64" height="1.77" fill="#3ccb78"/>
<rect x="315.59" y="444.25" width="1.64" height="1.45" fill="#3ccb78"/>
<rect x="317.88" y="444.25" width="1.64" height="1.13" fill="#3ccb78"/>
<rect x="320.17" y="444.25" width="1.64" height="0.70" fill="#3ccb78"/>
<rect x="322.47" y="443.98" width="1.64" height="0.70" fill="#3ccb78"/>
<rect x="324.76" y="443.05" width="1.64" height="1.20" fill="#3ccb78"/>
<rect x="327.05" y="442.34" width="1.64" height="1.91" fill="#3ccb78"/>
<rect x="329.34" y="441.36" width="1.64" height="2.89" fill="#3ccb78"/>
<rect x="331.63" y="440.82" width="1.64" height="3.43" fill="#3ccb78"/>
<rect x="333.92" y="440.53" width="1.64" height="3.72" fill="#3ccb78"/>
<rect x="336.22" y="440.75" width="1.64" height="3.50" fill="#3ccb78"/>
<rect x="338.51" y="441.09" width="1.64" height="3.16" fill="#3ccb78"/>
<rect x="340.80" y="441.75" width="1.64" height="2.50" fill="#3ccb78"/>
<rect x="343.09" y="442.19" width="1.64" height="2.06" fill="#3ccb78"/>
<rect x="345.38" y="442.49" width="1.64" height="1.76" fill="#3ccb78"/>
<rect x="347.67" y="442.80" width="1.64" height="1.45" fill="#3ccb78"/>
<rect x="349.97" y="443.16" width="1.64" height="1.09" fill="#3ccb78"/>
<rect x="352.26" y="443.62" width="1.64" height="0.70" fill="#3ccb78"/>
<rect x="354.55" y="444.25" width="1.64" height="0.70" fill="#3ccb78"/>
<rect x="356.84" y="444.25" width="1.64" height="0.92" fill="#3ccb78"/>
<rect x="359.13" y="444.25" width="1.64" height="1.15" fill="#3ccb78"/>
<rect x="361.42" y="444.25" width="1.64" height="1.37" fill="#3ccb78"/>
<rect x="363.72" y="444.25" width="1.64" height="1.42" fill="#3ccb78"/>
<rect x="366.01" y="444.25" width="1.64" height="1.24" fill="#3ccb78"/>
<rect x="368.30" y="444.25" width="1.64" height="1.00" fill="#3ccb78"/>
<rect x="370.59" y="444.25" width="1.64" height="0.70" fill="#3ccb78"/>
<rect x="372.88" y="443.46" width="1.64" height="0.79" fill="#3ccb78"/>
<rect x="375.17" y="443.00" width="1.64" height="1.25" fill="#3ccb78"/>
<rect x="377.47" y="442.43" width="1.64" height="1.82" fill="#3ccb78"/>
<rect x="379.76" y="441.86" width="1.64" height="2.39" fill="#3ccb78"/>
<rect x="382.05" y="441.28" width="1.64" height="2.97" fill="#3ccb78"/>
<rect x="384.34" y="440.71" width="1.64" height="3.54" fill="#3ccb78"/>
<rect x="386.63" y="440.25" width="1.64" height="4.00" fill="#3ccb78"/>
<rect x="388.92" y="439.84" width="1.64" height="4.41" fill="#3ccb78"/>
<rect x="391.22" y="439.44" width="1.64" height="4.81" fill="#3ccb78"/>
<rect x="393.51" y="439.04" width="1.64" height="5.21" fill="#3ccb78"/>
<rect x="395.80" y="438.55" width="1.64" height="5.70" fill="#3ccb78"/>
<rect x="398.09" y="437.80" width="1.64" height="6.45" fill="#3ccb78"/>
<rect x="400.38" y="437.06" width="1.64" height="7.19" fill="#3ccb78"/>
<rect x="402.67" y="436.31" width="1.64" height="7.94" fill="#3ccb78"/>
<rect x="404.97" y="435.57" width="1.64" height="8.68" fill="#3ccb78"/>
<rect x="407.26" y="435.08" width="1.64" height="9.17" fill="#3ccb78"/>
<rect x="409.55" y="434.63" width="1.64" height="9.62" fill="#3ccb78"/>
<rect x="411.84" y="434.17" width="1.64" height="10.08" fill="#3ccb78"/>
<rect x="414.13" y="433.71" width="1.64" height="10.54" fill="#3ccb78"/>
<rect x="416.42" y="433.25" width="1.64" height="11.00" fill="#3ccb78"/>
<rect x="418.72" y="432.96" width="1.64" height="11.29" fill="#3ccb78"/>
<rect x="421.01" y="432.87" width="1.64" height="11.38" fill="#3ccb78"/>
<rect x="423.30" y="432.78" width="1.64" height="11.47" fill="#3ccb78"/>
<rect x="425.59" y="432.68" width="1.64" height="11.57" fill="#3ccb78"/>
<rect x="427.88" y="432.59" width="1.64" height="11.66" fill="#3ccb78"/>
<rect x="430.18" y="432.50" width="1.64" height="11.75" fill="#3ccb78"/>
<rect x="432.47" y="432.39" width="1.64" height="11.86" fill="#3ccb78"/>
<rect x="434.76" y="432.27" width="1.64" height="11.98" fill="#3ccb78"/>
<rect x="437.05" y="432.16" width="1.64" height="12.09" fill="#3ccb78"/>
<rect x="439.34" y="432.04" width="1.64" height="12.21" fill="#3ccb78"/>
<rect x="441.63" y="432.10" width="1.64" height="12.15" fill="#3ccb78"/>
<rect x="443.93" y="432.25" width="1.64" height="12.00" fill="#3ccb78"/>
<rect x="446.22" y="432.40" width="1.64" height="11.85" fill="#3ccb78"/>
<rect x="448.51" y="432.14" width="1.64" height="12.11" fill="#3ccb78"/>
<rect x="450.80" y="431.16" width="1.64" height="13.09" fill="#3ccb78"/>
<rect x="453.09" y="430.36" width="1.64" height="13.89" fill="#3ccb78"/>
<rect x="455.38" y="429.90" width="1.64" height="14.35" fill="#3ccb78"/>
<rect x="457.68" y="429.71" width="1.64" height="14.54" fill="#3ccb78"/>
<rect x="459.97" y="429.52" width="1.64" height="14.73" fill="#3ccb78"/>
<rect x="462.26" y="430.23" width="1.64" height="14.02" fill="#3ccb78"/>
<rect x="464.55" y="431.03" width="1.64" height="13.22" fill="#3ccb78"/>
<rect x="466.84" y="432.08" width="1.64" height="12.17" fill="#3ccb78"/>
<rect x="469.13" y="433.23" width="1.64" height="11.02" fill="#3ccb78"/>
<rect x="471.43" y="434.19" width="1.64" height="10.06" fill="#3ccb78"/>
<rect x="473.72" y="434.99" width="1.64" height="9.26" fill="#3ccb78"/>
<rect x="476.01" y="435.56" width="1.64" height="8.69" fill="#3ccb78"/>
<rect x="478.30" y="435.73" width="1.64" height="8.52" fill="#3ccb78"/>
<rect x="480.59" y="435.91" width="1.64" height="8.34" fill="#3ccb78"/>
<rect x="482.88" y="436.08" width="1.64" height="8.17" fill="#3ccb78"/>
<rect x="485.18" y="436.25" width="1.64" height="8.00" fill="#3ccb78"/>
<rect x="487.47" y="436.25" width="1.64" height="8.00" fill="#3ccb78"/>
<rect x="489.76" y="436.25" width="1.64" height="8.00" fill="#3ccb78"/>
<rect x="492.05" y="436.25" width="1.64" height="8.00" fill="#3ccb78"/>
<rect x="494.34" y="436.25" width="1.64" height="8.00" fill="#3ccb78"/>
<rect x="496.63" y="436.01" width="1.64" height="8.24" fill="#3ccb78"/>
<rect x="498.93" y="435.63" width="1.64" height="8.62" fill="#3ccb78"/>
<rect x="501.22" y="435.24" width="1.64" height="9.01" fill="#3ccb78"/>
<rect x="503.51" y="434.78" width="1.64" height="9.47" fill="#3ccb78"/>
<rect x="505.80" y="434.17" width="1.64" height="10.08" fill="#3ccb78"/>
<rect x="508.09" y="433.56" width="1.64" height="10.69" fill="#3ccb78"/>
<rect x="510.38" y="433.03" width="1.64" height="11.22" fill="#3ccb78"/>
<rect x="512.68" y="433.37" width="1.64" height="10.88" fill="#3ccb78"/>
<rect x="514.97" y="433.72" width="1.64" height="10.53" fill="#3ccb78"/>
<rect x="517.26" y="433.91" width="1.64" height="10.34" fill="#3ccb78"/>
<rect x="519.55" y="434.08" width="1.64" height="10.17" fill="#3ccb78"/>
<rect x="521.84" y="434.25" width="1.64" height="10.00" fill="#3ccb78"/>
<rect x="524.13" y="434.42" width="1.64" height="9.83" fill="#3ccb78"/>
<rect x="526.43" y="434.62" width="1.64" height="9.63" fill="#3ccb78"/>
<rect x="528.72" y="434.85" width="1.64" height="9.40" fill="#3ccb78"/>
<rect x="531.01" y="435.08" width="1.64" height="9.17" fill="#3ccb78"/>
<rect x="533.30" y="435.31" width="1.64" height="8.94" fill="#3ccb78"/>
<rect x="535.59" y="435.58" width="1.64" height="8.67" fill="#3ccb78"/>
<rect x="537.88" y="436.04" width="1.64" height="8.21" fill="#3ccb78"/>
<rect x="540.18" y="436.50" width="1.64" height="7.75" fill="#3ccb78"/>
<rect x="542.47" y="436.96" width="1.64" height="7.29" fill="#3ccb78"/>
<rect x="544.76" y="437.42" width="1.64" height="6.83" fill="#3ccb78"/>
<rect x="547.05" y="437.59" width="1.64" height="6.66" fill="#3ccb78"/>
<rect x="549.34" y="437.71" width="1.64" height="6.54" fill="#3ccb78"/>
<rect x="551.64" y="437.82" width="1.64" height="6.43" fill="#3ccb78"/>
<rect x="553.93" y="437.94" width="1.64" height="6.31" fill="#3ccb78"/>
<rect x="556.22" y="437.90" width="1.64" height="6.35" fill="#3ccb78"/>
<rect x="558.51" y="437.67" width="1.64" height="6.58" fill="#3ccb78"/>
<rect x="560.80" y="437.44" width="1.64" height="6.81" fill="#3ccb78"/>
<rect x="563.09" y="437.21" width="1.64" height="7.04" fill="#3ccb78"/>
<rect x="565.39" y="437.01" width="1.64" height="7.24" fill="#3ccb78"/>
<rect x="567.68" y="437.12" width="1.64" height="7.13" fill="#3ccb78"/>
<rect x="569.97" y="437.24" width="1.64" height="7.01" fill="#3ccb78"/>
<rect x="572.26" y="437.35" width="1.64" height="6.90" fill="#3ccb78"/>
<rect x="574.55" y="437.47" width="1.64" height="6.78" fill="#3ccb78"/>
<rect x="576.84" y="437.83" width="1.64" height="6.42" fill="#3ccb78"/>
<rect x="579.14" y="438.29" width="1.64" height="5.96" fill="#3ccb78"/>
<rect x="581.43" y="438.75" width="1.64" height="5.50" fill="#3ccb78"/>
<rect x="583.72" y="439.21" width="1.64" height="5.04" fill="#3ccb78"/>
<rect x="586.01" y="439.54" width="1.64" height="4.71" fill="#3ccb78"/>
<rect x="588.30" y="439.66" width="1.64" height="4.59" fill="#3ccb78"/>
<rect x="590.59" y="439.77" width="1.64" height="4.48" fill="#3ccb78"/>
<rect x="592.89" y="439.89" width="1.64" height="4.36" fill="#3ccb78"/>
<rect x="595.18" y="440.00" width="1.64" height="4.25" fill="#3ccb78"/>
<rect x="597.47" y="440.00" width="1.64" height="4.25" fill="#3ccb78"/>
<rect x="599.76" y="439.93" width="1.64" height="4.32" fill="#3ccb78"/>
<rect x="602.05" y="439.64" width="1.64" height="4.61" fill="#3ccb78"/>
<rect x="604.34" y="439.35" width="1.64" height="4.90" fill="#3ccb78"/>
<rect x="606.64" y="439.07" width="1.64" height="5.18" fill="#3ccb78"/>
<rect x="608.93" y="438.78" width="1.64" height="5.47" fill="#3ccb78"/>
<rect x="611.22" y="438.55" width="1.64" height="5.70" fill="#3ccb78"/>
<rect x="613.51" y="438.32" width="1.64" height="5.93" fill="#3ccb78"/>
<rect x="615.80" y="438.09" width="1.64" height="6.16" fill="#3ccb78"/>
<rect x="618.09" y="438.24" width="1.64" height="6.01" fill="#3ccb78"/>
<rect x="620.39" y="438.62" width="1.64" height="5.63" fill="#3ccb78"/>
<rect x="622.68" y="439.00" width="1.64" height="5.25" fill="#3ccb78"/>
<rect x="624.97" y="439.46" width="1.64" height="4.79" fill="#3ccb78"/>
<rect x="627.26" y="440.07" width="1.64" height="4.18" fill="#3ccb78"/>
<rect x="629.55" y="440.68" width="1.64" height="3.57" fill="#3ccb78"/>
<rect x="631.84" y="441.29" width="1.64" height="2.96" fill="#3ccb78"/>
<rect x="634.14" y="441.86" width="1.64" height="2.39" fill="#3ccb78"/>
<rect x="636.43" y="442.42" width="1.64" height="1.83" fill="#3ccb78"/>
<rect x="638.72" y="442.99" width="1.64" height="1.26" fill="#3ccb78"/>
<rect x="641.01" y="443.31" width="1.64" height="0.94" fill="#3ccb78"/>
<rect x="643.30" y="443.58" width="1.64" height="0.70" fill="#3ccb78"/>
<rect x="645.59" y="444.05" width="1.64" height="0.70" fill="#3ccb78"/>
<rect x="647.89" y="444.25" width="1.64" height="0.81" fill="#3ccb78"/>
<rect x="650.18" y="444.25" width="1.64" height="0.99" fill="#3ccb78"/>
<rect x="652.47" y="444.25" width="1.64" height="1.17" fill="#3ccb78"/>
<rect x="654.76" y="444.25" width="1.64" height="1.35" fill="#3ccb78"/>
<rect x="657.05" y="444.25" width="1.64" height="1.55" fill="#3ccb78"/>
<rect x="659.34" y="444.25" width="1.64" height="1.86" fill="#3ccb78"/>
<rect x="661.64" y="444.25" width="1.64" height="2.16" fill="#3ccb78"/>
<rect x="663.93" y="444.25" width="1.64" height="2.47" fill="#3ccb78"/>
<rect x="666.22" y="444.25" width="1.64" height="2.30" fill="#3ccb78"/>
<rect x="668.51" y="444.25" width="1.64" height="2.07" fill="#3ccb78"/>
<rect x="670.80" y="444.25" width="1.64" height="1.84" fill="#3ccb78"/>
<rect x="673.10" y="444.25" width="1.64" height="1.62" fill="#3ccb78"/>
<rect x="675.39" y="444.25" width="1.64" height="1.42" fill="#3ccb78"/>
<rect x="677.68" y="444.25" width="1.64" height="1.21" fill="#3ccb78"/>
<rect x="679.97" y="444.25" width="1.64" height="1.00" fill="#3ccb78"/>
<rect x="682.26" y="444.25" width="1.64" height="0.83" fill="#3ccb78"/>
<rect x="684.55" y="444.25" width="1.64" height="0.77" fill="#3ccb78"/>
<rect x="686.85" y="443.83" width="1.64" height="0.70" fill="#3ccb78"/>
<rect x="689.14" y="443.43" width="1.64" height="0.82" fill="#3ccb78"/>
<rect x="691.43" y="443.24" width="1.64" height="1.01" fill="#3ccb78"/>
<rect x="693.72" y="443.04" width="1.64" height="1.21" fill="#3ccb78"/>
<rect x="696.01" y="442.82" width="1.64" height="1.43" fill="#3ccb78"/>
<rect x="698.30" y="442.59" width="1.64" height="1.66" fill="#3ccb78"/>
<rect x="700.60" y="442.36" width="1.64" height="1.89" fill="#3ccb78"/>
<rect x="702.89" y="442.13" width="1.64" height="2.12" fill="#3ccb78"/>
<rect x="705.18" y="441.98" width="1.64" height="2.27" fill="#3ccb78"/>
<rect x="707.47" y="441.92" width="1.64" height="2.33" fill="#3ccb78"/>
<rect x="709.76" y="441.86" width="1.64" height="2.39" fill="#3ccb78"/>
<rect x="712.05" y="441.80" width="1.64" height="2.45" fill="#3ccb78"/>
<rect x="714.35" y="441.76" width="1.64" height="2.49" fill="#3ccb78"/>
<rect x="716.64" y="441.93" width="1.64" height="2.32" fill="#3ccb78"/>
<rect x="718.93" y="442.11" width="1.64" height="2.14" fill="#3ccb78"/>
<rect x="721.22" y="442.28" width="1.64" height="1.97" fill="#3ccb78"/>
<rect x="723.51" y="442.45" width="1.64" height="1.80" fill="#3ccb78"/>
<rect x="725.80" y="442.50" width="1.64" height="1.75" fill="#3ccb78"/>
<rect x="728.10" y="442.50" width="1.64" height="1.75" fill="#3ccb78"/>
<rect x="730.39" y="442.50" width="1.64" height="1.75" fill="#3ccb78"/>
<rect x="732.68" y="442.50" width="1.64" height="1.75" fill="#3ccb78"/>
<rect x="734.97" y="442.50" width="1.64" height="1.75" fill="#3ccb78"/>
<rect x="737.26" y="442.50" width="1.64" height="1.75" fill="#3ccb78"/>
<rect x="739.55" y="442.50" width="1.64" height="1.75" fill="#3ccb78"/>
<rect x="741.85" y="442.50" width="1.64" height="1.75" fill="#3ccb78"/>
<rect x="744.14" y="442.50" width="1.64" height="1.75" fill="#3ccb78"/>
<rect x="746.43" y="442.50" width="1.64" height="1.75" fill="#3ccb78"/>
<rect x="748.72" y="442.50" width="1.64" height="1.75" fill="#3ccb78"/>
<rect x="751.01" y="442.50" width="1.64" height="1.75" fill="#3ccb78"/>
<rect x="753.30" y="442.50" width="1.64" height="1.75" fill="#3ccb78"/>
<rect x="755.60" y="442.26" width="1.64" height="1.99" fill="#3ccb78"/>
<rect x="757.89" y="441.73" width="1.64" height="2.52" fill="#3ccb78"/>
<rect x="760.18" y="440.75" width="1.64" height="3.50" fill="#3ccb78"/>
<rect x="762.47" y="439.60" width="1.64" height="4.65" fill="#3ccb78"/>
<rect x="764.76" y="438.55" width="1.64" height="5.70" fill="#3ccb78"/>
<rect x="767.05" y="437.74" width="1.64" height="6.51" fill="#3ccb78"/>
<rect x="769.35" y="436.96" width="1.64" height="7.29" fill="#3ccb78"/>
<rect x="771.64" y="436.39" width="1.64" height="7.86" fill="#3ccb78"/>
<rect x="773.93" y="435.81" width="1.64" height="8.44" fill="#3ccb78"/>
<polyline fill="none" stroke="#a8283c" stroke-width="0.75" points="0,446 12,446 25,445.6 40,445.3 55,445 66,444.4 75,443.5 85,442.3 100,440 112.5,435.5 125,431.25 133,429.6 137.5,429.4 143,430.4 150,433.75 162.5,438.75 175,442.5 187.5,448.75 200,455 207,457.6 212.5,458.75 220,458 230,455.5 237,454.8 240,455 250,457.5 262.5,460 268,460.4 272.5,460 282.5,456.25 295,451.25 307.5,448.75 320,445.75 330,443.75 340,442 347,441.2 350,441.25 356,442 363.5,444.5 371,445.5 381,443.75 393.5,440.5 406,437.5 418.5,434.5 431,432.5 443.5,432.5 456,431.25 466,430.5 476,432.5 486,435.5 496,436.25 506,435.5 518.5,434.5 531,434.5 543.5,436.25 556,437.5 568.5,437.5 581,438.25 593.5,439.5 606,439.5 612.5,438.75 625,438.75 637.5,440.5 650,443.25 662.5,445.5 672.5,446.5 682.5,445.5 695,443.25 707.5,442 725,441.75 740,442.25 755,442.5 765,441.25 775,438.75"/>
<polyline fill="none" stroke="#1e4cab" stroke-width="1.05" stroke-linejoin="round" points="-2.14,477.31 0.16,477.29 2.45,476.04 4.74,477.24 7.03,477.40 9.32,478.59 11.61,476.21 13.91,476.40 16.20,478.27 18.49,479.06 20.78,479.93 23.07,478.32 25.36,476.10 27.66,475.70 29.95,476.43 32.24,476.57 34.53,475.88 36.82,475.87 39.11,475.73 41.41,476.11 43.70,475.96 45.99,475.79 48.28,476.75 50.57,476.27 52.86,476.71 55.16,476.26 57.45,476.14 59.74,476.87 62.03,476.23 64.32,476.18 66.61,476.29 68.91,474.44 71.20,473.39 73.49,473.96 75.78,473.81 78.07,473.13 80.36,472.06 82.66,472.27 84.95,471.77 87.24,472.02 89.53,471.57 91.82,470.46 94.12,470.16 96.41,469.56 98.70,468.78 100.99,467.81 103.28,468.46 105.57,468.73 107.87,468.01 110.16,468.84 112.45,469.27 114.74,468.33 117.03,468.28 119.32,467.58 121.62,467.14 123.91,467.30 126.20,468.54 128.49,468.80 130.78,470.25 133.07,470.72 135.37,473.02 137.66,474.83 139.95,474.34 142.24,475.23 144.53,474.63 146.82,474.86 149.12,474.86 151.41,474.95 153.70,474.84 155.99,475.53 158.28,475.12 160.57,475.72 162.87,475.41 165.16,475.26 167.45,474.86 169.74,476.21 172.03,478.54 174.32,479.91 176.62,479.97 178.91,480.45 181.20,479.55 183.49,479.20 185.78,478.76 188.07,480.02 190.37,479.71 192.66,480.39 194.95,481.09 197.24,481.60 199.53,481.31 201.82,481.40 204.12,480.44 206.41,479.62 208.70,478.99 210.99,478.20 213.28,477.54 215.58,477.10 217.87,477.12 220.16,477.09 222.45,476.19 224.74,476.54 227.03,477.84 229.33,477.73 231.62,477.87 233.91,478.53 236.20,479.70 238.49,480.14 240.78,480.13 243.08,480.59 245.37,480.75 247.66,481.75 249.95,480.53 252.24,480.51 254.53,480.39 256.83,480.12 259.12,481.16 261.41,480.44 263.70,479.33 265.99,478.85 268.28,477.61 270.58,477.37 272.87,476.85 275.16,477.21 277.45,476.91 279.74,477.51 282.03,477.81 284.33,477.40 286.62,477.52 288.91,477.18 291.20,477.34 293.49,477.08 295.78,476.06 298.08,475.94 300.37,476.21 302.66,476.26 304.95,476.76 307.24,477.15 309.53,476.60 311.83,475.77 314.12,475.23 316.41,474.71 318.70,474.02 320.99,473.50 323.29,473.48 325.58,473.18 327.87,472.11 330.16,473.32 332.45,473.50 334.74,473.20 337.04,473.55 339.33,474.10 341.62,473.94 343.91,474.34 346.20,474.20 348.49,474.75 350.79,475.77 353.08,477.22 355.37,478.20 357.66,478.51 359.95,477.35 362.24,476.66 364.54,475.57 366.83,475.52 369.12,474.71 371.41,474.65 373.70,474.41 375.99,474.69 378.29,474.24 380.58,474.07 382.87,473.38 385.16,473.36 387.45,473.14 389.74,472.87 392.04,472.09 394.33,472.12 396.62,471.64 398.91,471.09 401.20,471.14 403.49,470.91 405.79,471.52 408.08,470.93 410.37,470.50 412.66,471.43 414.95,471.43 417.24,470.69 419.54,471.16 421.83,471.75 424.12,471.62 426.41,470.92 428.70,471.30 431.00,470.95 433.29,470.89 435.58,470.56 437.87,470.64 440.16,471.17 442.45,471.59 444.75,472.01 447.04,471.02 449.33,470.00 451.62,469.56 453.91,469.73 456.20,471.29 458.50,472.17 460.79,471.73 463.08,471.62 465.37,473.35 467.66,473.77 469.95,473.99 472.25,473.83 474.54,473.74 476.83,473.36 479.12,473.08 481.41,472.66 483.70,472.76 486.00,472.39 488.29,472.83 490.58,473.04 492.87,472.58 495.16,472.95 497.45,471.87 499.75,471.95 502.04,471.36 504.33,471.02 506.62,470.32 508.91,470.61 511.20,470.07 513.50,471.50 515.79,472.55 518.08,472.43 520.37,473.15 522.66,472.99 524.95,473.11 527.25,473.31 529.54,473.00 531.83,472.59 534.12,473.13 536.41,473.18 538.70,473.21 541.00,473.28 543.29,473.75 545.58,473.79 547.87,473.73 550.16,473.21 552.46,472.52 554.75,472.02 557.04,472.15 559.33,470.88 561.62,470.68 563.91,471.20 566.21,471.37 568.50,471.15 570.79,471.90 573.08,472.67 575.37,472.74 577.66,473.44 579.96,473.94 582.25,474.19 584.54,474.57 586.83,473.85 589.12,474.26 591.41,474.06 593.71,473.43 596.00,472.78 598.29,473.20 600.58,472.54 602.87,472.00 605.16,471.42 607.46,471.79 609.75,471.24 612.04,471.84 614.33,472.41 616.62,472.14 618.91,473.05 621.21,473.56 623.50,473.51 625.79,474.28 628.08,475.11 630.37,474.73 632.66,475.63 634.96,476.77 637.25,478.29 639.54,477.67 641.83,476.62 644.12,476.21 646.41,476.20 648.71,477.43 651.00,477.41 653.29,477.99 655.58,477.57 657.87,477.63 660.16,477.84 662.46,478.21 664.75,476.63 667.04,476.27 669.33,475.05 671.62,475.44 673.92,475.83 676.21,475.97 678.50,475.98 680.79,475.23 683.08,474.71 685.37,474.71 687.67,474.52 689.96,473.88 692.25,473.83 694.54,473.76 696.83,474.02 699.12,473.86 701.42,473.42 703.71,472.80 706.00,473.34 708.29,473.03 710.58,473.45 712.87,473.85 715.17,474.02 717.46,474.07 719.75,474.64 722.04,474.36 724.33,474.20 726.62,474.36 728.92,473.55 731.21,473.43 733.50,473.82 735.79,473.17 738.08,473.90 740.37,473.66 742.67,473.31 744.96,473.06 747.25,473.39 749.54,473.39 751.83,472.77 754.12,473.19 756.42,473.83 758.71,472.75 761.00,470.60 763.29,469.56 765.58,469.00 767.87,468.82 770.17,467.90 772.46,467.87 774.75,468.29"/>
<line x1="0" y1="471.6" x2="990.0" y2="471.6" stroke="#989fad" stroke-width="0.9" stroke-dasharray="1.72 1.72"/>
<line x1="0" y1="480.4" x2="990.0" y2="480.4" stroke="#989fad" stroke-width="0.9" stroke-dasharray="1.72 1.72"/>
<rect x="0" y="0.9" width="991.2" height="1.2" fill="#a9afbc"/>
<rect x="989.9" y="1" width="1.3" height="480" fill="#a4abb9"/>
<rect x="0" y="424.15" width="991.0" height="3" fill="#9ba1af"/>
<rect x="0" y="462.15" width="991.0" height="3" fill="#878e9f"/>
<rect x="991.0" y="20.32" width="1.4" height="0.8" fill="#9aa1ae"/>
<rect x="991.0" y="48.41" width="1.4" height="0.8" fill="#9aa1ae"/>
<rect x="991.0" y="76.49" width="1.4" height="0.8" fill="#9aa1ae"/>
<rect x="991.0" y="104.57" width="1.4" height="0.8" fill="#9aa1ae"/>
<rect x="991.0" y="132.66" width="1.4" height="0.8" fill="#9aa1ae"/>
<rect x="991.0" y="160.74" width="1.4" height="0.8" fill="#9aa1ae"/>
<rect x="991.0" y="188.82" width="1.4" height="0.8" fill="#9aa1ae"/>
<rect x="991.0" y="216.90" width="1.4" height="0.8" fill="#9aa1ae"/>
<rect x="991.0" y="244.99" width="1.4" height="0.8" fill="#9aa1ae"/>
<rect x="991.0" y="273.07" width="1.4" height="0.8" fill="#9aa1ae"/>
<rect x="991.0" y="301.15" width="1.4" height="0.8" fill="#9aa1ae"/>
<rect x="991.0" y="329.24" width="1.4" height="0.8" fill="#9aa1ae"/>
<rect x="991.0" y="357.32" width="1.4" height="0.8" fill="#9aa1ae"/>
<rect x="991.0" y="385.40" width="1.4" height="0.8" fill="#9aa1ae"/>
<rect x="991.0" y="413.49" width="1.4" height="0.8" fill="#9aa1ae"/>
<rect x="991.0" y="428.60" width="1.4" height="0.8" fill="#9aa1ae"/>
<rect x="991.0" y="443.85" width="1.4" height="0.8" fill="#9aa1ae"/>
<rect x="991.0" y="459.30" width="1.4" height="0.8" fill="#9aa1ae"/>
<rect x="991.0" y="462.80" width="1.4" height="0.8" fill="#9aa1ae"/>
<rect x="991.0" y="471.20" width="1.4" height="0.8" fill="#9aa1ae"/>
<rect x="991.0" y="480.00" width="1.4" height="0.8" fill="#9aa1ae"/>
</svg>
<div class="ax" style="top:15.82px">1.35340</div>
<div class="ax" style="top:43.91px">1.34650</div>
<div class="ax" style="top:71.99px">1.33960</div>
<div class="ax" style="top:100.07px">1.33270</div>
<div class="ax" style="top:128.16px">1.32580</div>
<div class="ax" style="top:156.24px">1.31890</div>
<div class="ax" style="top:184.32px">1.31200</div>
<div class="ax" style="top:212.40px">1.30510</div>
<div class="ax" style="top:240.49px">1.29820</div>
<div class="ax" style="top:268.57px">1.29130</div>
<div class="ax" style="top:296.65px">1.28440</div>
<div class="ax" style="top:324.74px">1.27750</div>
<div class="ax" style="top:352.82px">1.27060</div>
<div class="ax" style="top:380.90px">1.26370</div>
<div class="ax" style="top:408.99px">1.25680</div>
<div class="ax" style="top:427.00px;left:992.9px">0.006105</div>
<div class="ax" style="top:439.90px;left:992.9px">0.00</div>
<div class="ax" style="top:453.20px;left:992.9px">-0.006341</div>
<div class="ax" style="top:464.20px;left:992.9px">100</div>
<div class="ax" style="top:467.20px;left:992.9px">70</div>
<div class="ax" style="top:474.90px;left:992.9px">30</div>
<div class="tag" style="top:58.1px;background:#1e90ff;color:#12305c;width:33px"><span>1.34346</span></div>
<div class="tag" style="top:73.3px;background:#ffffff;color:#30354f"><span>1.33945</span></div>
<div class="tag" style="top:153.9px;background:#ffffff;color:#30354f;height:7.7px"><span>1.31988</span></div>
<div class="ax" style="left:-1.8px;top:428px;font-size:8.2px;transform:scaleX(0.915)">3033 0.001824</div>
<div class="t" style="left:448.7px;top:6.5px;font-size:16.8px;line-height:18px;-webkit-text-stroke:0.25px #fff">GBPUSD</div>
<div class="t" style="left:445.5px;top:26.8px;font-size:16.7px;line-height:18px;letter-spacing:0.5px;word-spacing:0.8px;-webkit-text-stroke:0.25px #fff">H1 Chart</div>
<div class="b" style="left:828.9px;top:5.9px">1.3635</div>
<div class="b" style="left:786.4px;top:47.1px">1.3435</div>
<div class="t" style="left:803px;top:161px;width:61px;height:17px;box-sizing:border-box;border:1px solid #4f5d73;font-size:13.1px;line-height:15.8px;text-indent:-0.4px;-webkit-text-stroke:0.2px #fff;overflow:visible">1.3200-20</div>
</body></html>
